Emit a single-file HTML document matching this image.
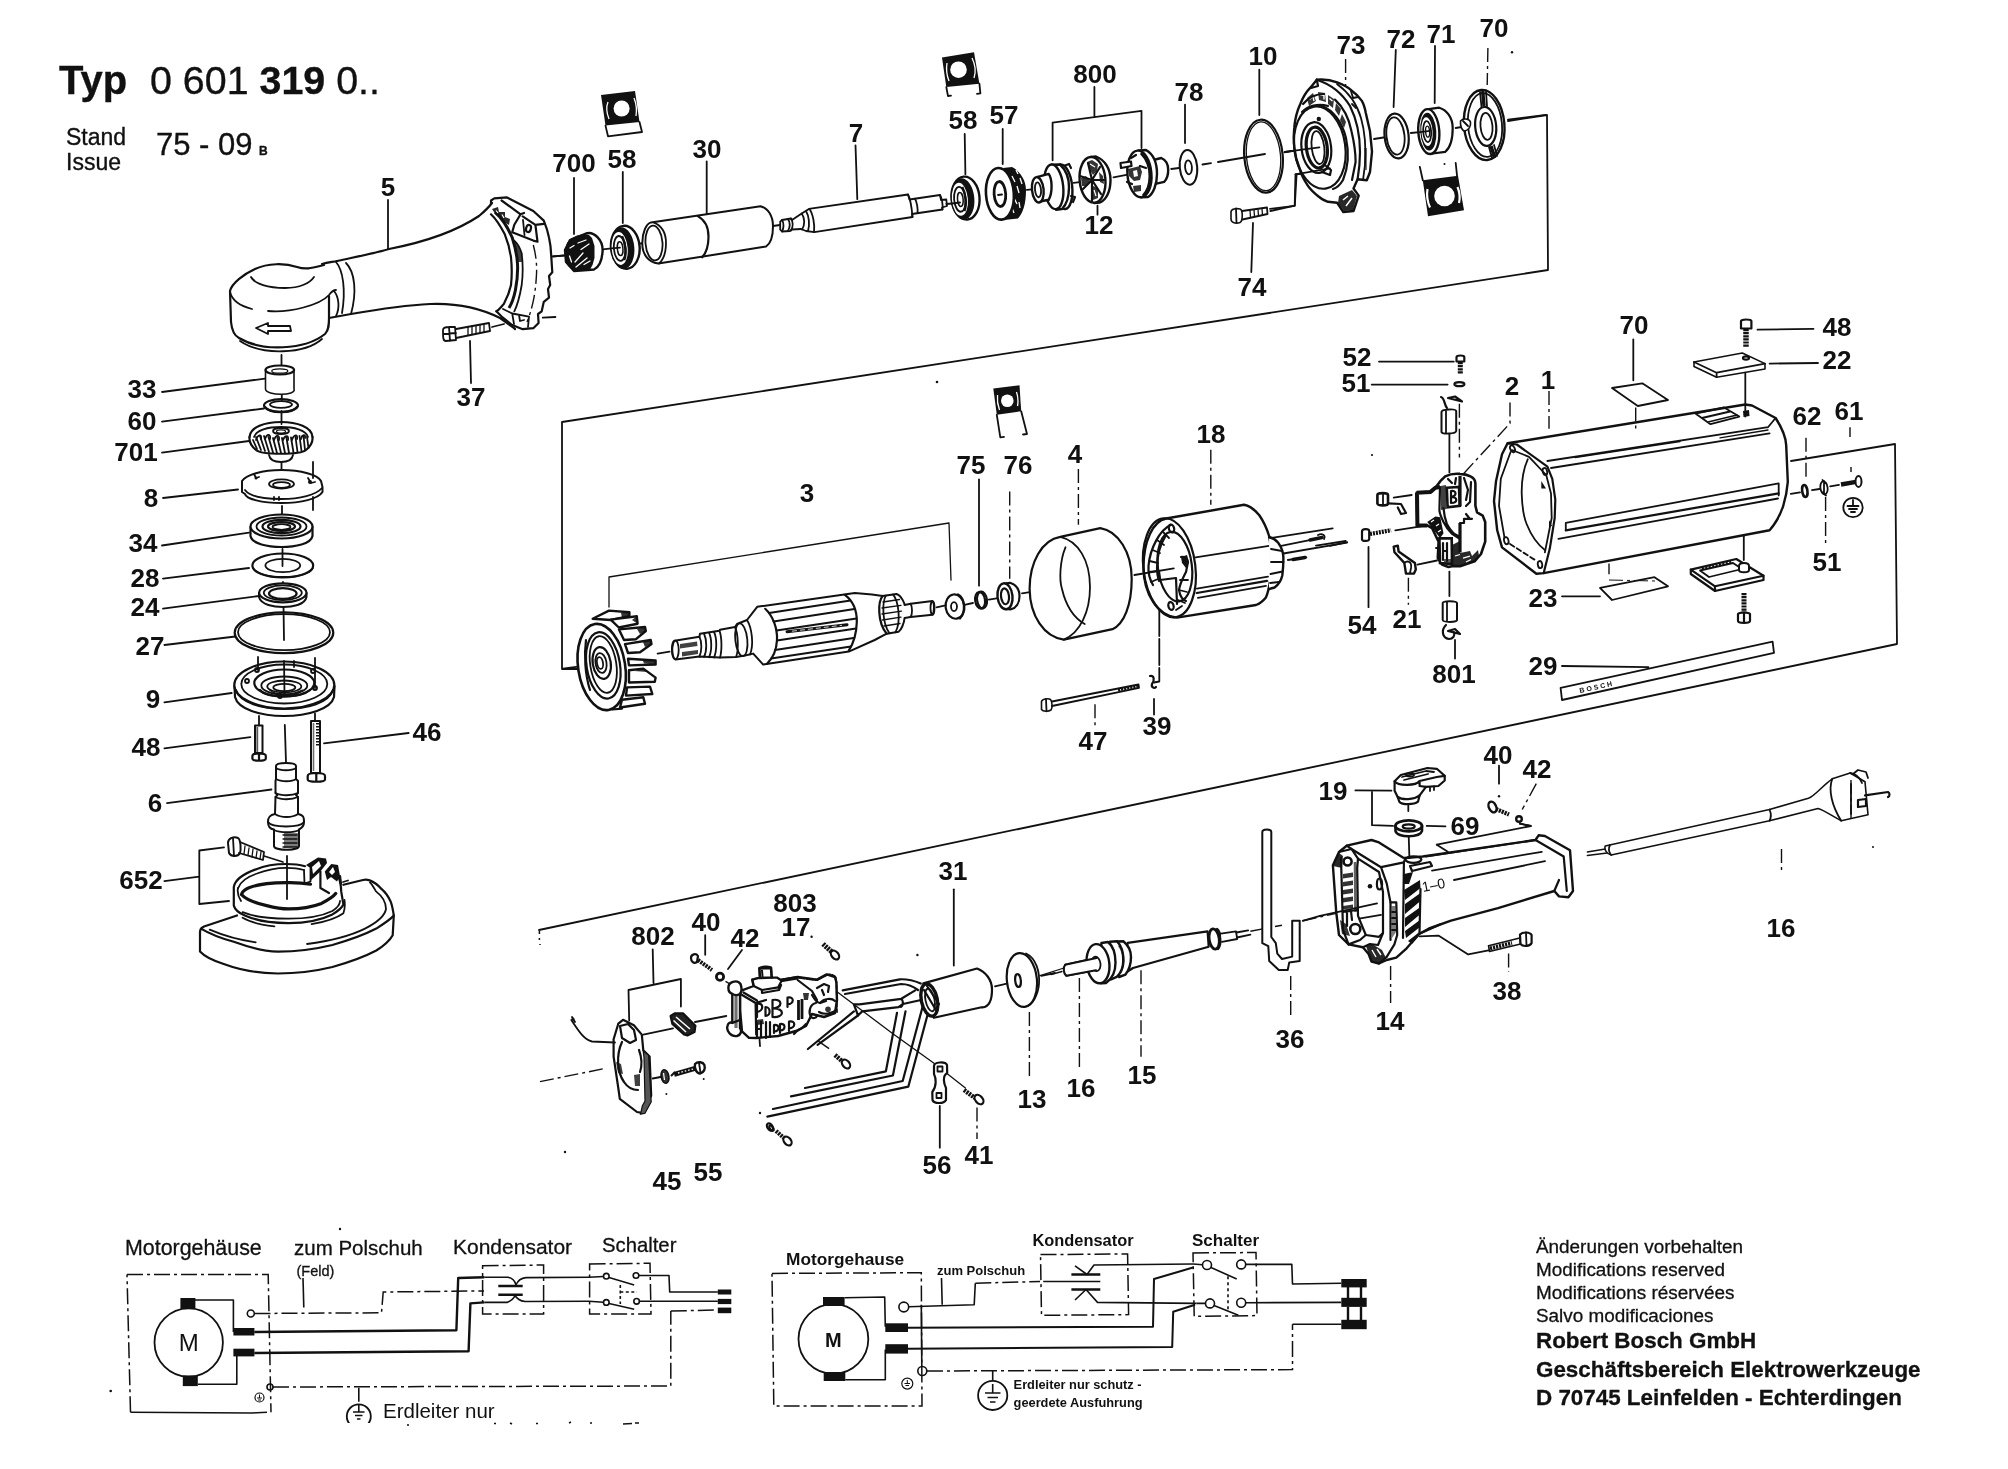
<!DOCTYPE html>
<html><head><meta charset="utf-8"><title>Typ 0 601 319 0..</title>
<style>
html,body{margin:0;padding:0;background:#fff;}
svg{display:block;filter:blur(.5px)}
text{font-family:"Liberation Sans",sans-serif;fill:#111}
.b{font-weight:bold;font-size:26px}
.l{stroke:#111;stroke-width:1.8;fill:none;stroke-linecap:round;stroke-linejoin:round}
.t{stroke:#111;stroke-width:1.3;fill:none;stroke-linecap:round;stroke-linejoin:round}
.k{stroke:#111;stroke-width:2.2;fill:none;stroke-linecap:round;stroke-linejoin:round}
.w{stroke:#111;stroke-width:1.6;fill:#fff;stroke-linecap:round;stroke-linejoin:round}
.f{fill:#111;stroke:none}
.d{stroke:#111;stroke-width:1.4;fill:none;stroke-dasharray:14 4 3 4}
</style></head><body>
<svg width="2008" height="1469" viewBox="0 0 2008 1469">
<rect width="2008" height="1469" fill="#fff"/>
<!-- 00_labels.svg -->
<g id="title" stroke="#111" stroke-width=".35">
<text x="59" y="94" font-size="40" font-weight="bold">Typ</text>
<text x="150" y="94" font-size="39.400">0 601 <tspan font-weight="bold">319</tspan> 0..</text>
<text x="66" y="145" font-size="23">Stand</text>
<text x="66" y="170" font-size="23">Issue</text>
<text x="156" y="155" font-size="31">75 - 09</text>
<text x="259" y="155" font-size="12" font-weight="bold">B</text>
</g>
<g id="labels" class="b" text-anchor="middle">
<text x="388" y="196">5</text>
<text x="574" y="172">700</text>
<text x="622" y="168">58</text>
<text x="707" y="158">30</text>
<text x="856" y="142">7</text>
<text x="963" y="129">58</text>
<text x="1004" y="124">57</text>
<text x="1095" y="83">800</text>
<text x="1189" y="101">78</text>
<text x="1263" y="65">10</text>
<text x="1351" y="54">73</text>
<text x="1401" y="48">72</text>
<text x="1441" y="43">71</text>
<text x="1494" y="37">70</text>
<text x="1099" y="234">12</text>
<text x="1252" y="296">74</text>
<text x="471" y="406">37</text>
<text x="142" y="398">33</text>
<text x="142" y="430">60</text>
<text x="136" y="461">701</text>
<text x="151" y="507">8</text>
<text x="143" y="552">34</text>
<text x="145" y="587">28</text>
<text x="145" y="616">24</text>
<text x="150" y="655">27</text>
<text x="153" y="708">9</text>
<text x="146" y="756">48</text>
<text x="427" y="741">46</text>
<text x="155" y="812">6</text>
<text x="141" y="889">652</text>
<text x="807" y="502">3</text>
<text x="971" y="474">75</text>
<text x="1018" y="474">76</text>
<text x="1075" y="463">4</text>
<text x="1211" y="443">18</text>
<text x="1093" y="750">47</text>
<text x="1157" y="735">39</text>
<text x="1357" y="366">52</text>
<text x="1356" y="392">51</text>
<text x="1512" y="395">2</text>
<text x="1548" y="389">1</text>
<text x="1634" y="334">70</text>
<text x="1837" y="336">48</text>
<text x="1837" y="369">22</text>
<text x="1807" y="425">62</text>
<text x="1849" y="420">61</text>
<text x="1827" y="571">51</text>
<text x="1543" y="607">23</text>
<text x="1362" y="634">54</text>
<text x="1407" y="628">21</text>
<text x="1454" y="683">801</text>
<text x="1543" y="675">29</text>
<text x="1333" y="800">19</text>
<text x="1498" y="764">40</text>
<text x="1537" y="778">42</text>
<text x="1465" y="835">69</text>
<text x="953" y="880">31</text>
<text x="795" y="912">803</text>
<text x="796" y="936">17</text>
<text x="653" y="945">802</text>
<text x="706" y="931">40</text>
<text x="745" y="947">42</text>
<text x="1032" y="1108">13</text>
<text x="1081" y="1097">16</text>
<text x="1142" y="1084">15</text>
<text x="1290" y="1048">36</text>
<text x="1390" y="1030">14</text>
<text x="1507" y="1000">38</text>
<text x="1781" y="937">16</text>
<text x="937" y="1174">56</text>
<text x="979" y="1164">41</text>
<text x="667" y="1190">45</text>
<text x="708" y="1181">55</text>
</g>
<g id="footer" stroke="#111" stroke-width=".3">
<text x="1536" y="1253" font-size="18.900">Änderungen vorbehalten</text>
<text x="1536" y="1276" font-size="18.900">Modifications reserved</text>
<text x="1536" y="1299" font-size="18.900">Modifications réservées</text>
<text x="1536" y="1322" font-size="18.900">Salvo modificaciones</text>
<text x="1536" y="1348" font-size="22.400" font-weight="bold">Robert Bosch GmbH</text>
<text x="1536" y="1377" font-size="22.400" font-weight="bold">Geschäftsbereich Elektrowerkzeuge</text>
<text x="1536" y="1405" font-size="22.400" font-weight="bold">D 70745 Leinfelden - Echterdingen</text>
</g>

<!-- 01_frames.svg -->
<g id="frames" class="l">
<path d="M577 669 L562 669 L562 422 L1548 270 L1547 115 L1508 121"/>
<path d="M539 930 L1897 644 L1895 444 L1791 461"/>
<path d="M609 607 L609 577 L949 523 L951 580" class="t"/>
</g>

<!-- 10_part5.svg -->
<g id="p5">
<!-- leader 5 -->
<path class="l" d="M388 200 L388 249"/>
<!-- head cylinder -->
<path class="k" d="M324 265 C312 268 306 270 297 267 C285 263 268 263 255 269 C244 274 232 283 230 291 L231 322 C232 332 235 336 239 338 C262 352 305 350 325 334 C329 330 329 324 329 318 L329 296"/>
<path class="l" d="M240 341 C262 356 305 354 322 339"/>
<path class="l" d="M230 292 C232 300 240 306 252 309 M268 311 C290 313 320 305 329 295 C332 291 334 290 336 290"/>
<path class="l" d="M251 277 C255 284 268 288 285 288 C300 288 310 283 314 277"/>
<!-- arrow -->
<path class="l" d="M256 328 L268 323 L268 326 L290 326 L291 331 L268 331 L268 334 Z"/>
<!-- neck -->
<path class="k" d="M322 264 C328 262 333 262 337 261"/>
<path class="l" d="M336 262 C343 270 346 290 342 313 M346 263 C355 272 357 292 351 314 M334 291 C339 297 340 308 336 316 M329 318 L351 314"/>
<!-- body -->
<path class="k" d="M337 261 C360 256 380 252 389 249 C420 243 455 232 479 216 C485 211 489 207 492 203"/>
<path class="k" d="M351 314 C380 309 410 305 430 304 C455 303 480 308 500 318 C506 322 511 326 515 329"/>
<!-- flange -->
<path class="k" d="M491 203.700 L491 200.500 L494.300 198.400 L507 197.400 L533.300 211 L543.800 220.600 C546 226 548 232 549 237.500 C550.500 244 551 250 551.200 255.400 L552.300 272.300 L549 276 L550.200 285 L548 289 L549 297.600 L543.800 301.800 L541.700 311.300 L538 314 L538.600 323 L533.300 328.200 L522.700 329.200 L512.200 325 L501.600 316.600 L496.400 311.300"/>
<path class="k" d="M491 214.300 C497 220 501 227 504.800 234.300 C508 242 510 250 511 257.500 C512 267 512 276 511 285 C509.500 292 507 298 503.800 304 C501 307 499 310 496.400 311.300"/>
<path d="M495 212 C503 219 508 228 512.200 237.500 C515 246 517 255 517.500 263.800 C518 273 517 282 515.400 290.200 C514 297 512 303 509 308" fill="none" stroke="#111" stroke-width="3"/>
<path class="l" d="M514.300 240.600 C518 244 520 248 521.700 253.300 C523 264 523 275 521.700 285 C520 295 518 304 514.300 311.300"/>
<path class="f" d="M512.500 239 L516 243 C519 247 521 251 521.700 255 L522 262 L517.500 262 C517 254 515 246 512.500 239Z" opacity=".8"/>
<path class="f" d="M492 209 L498 207 L499 212 L505 212 L505 217 L510 219 L509 225 L504 222 L501 217 L496 215Z" opacity=".9"/>
<path d="M496 210.500 L498 213 M502 214.500 L504 218" stroke="#fff" stroke-width="1.200"/>
<path class="k" d="M501.600 200.500 L520.600 214.300 L514.300 224.800 L512.200 232.200 L533.300 240.600 L537.500 241.700 L535.400 224.800 L522.700 216.400 M520.600 214.300 L524 213 M535.400 224.800 L543.800 223.800"/>
<path class="l" d="M523 220 L524.500 235"/>
<ellipse class="k" cx="528.500" cy="228.500" rx="2.400" ry="3.600" transform="rotate(15 528.500 228.500)"/>
<path class="d" d="M533.300 245 C536 255 537 265 536.500 274.400 C536 284 535 293 533.300 300.800 C531.500 309 529.500 316 527 322" stroke-dasharray="12 4 3 4"/>
<path class="l" d="M503 309 L512.200 313.500 L529 316.600 L528 327 M512.200 313.500 L514 324 M519 315 L520 321 L524 320"/>
<!-- axis -->
<path class="l" d="M552.300 256.500 L565 255.400 M542.800 317.600 L555.400 317"/>
<!-- screw 37 -->
<path class="l" d="M443 330 C443 327 446 327 449 327 L455 327 L456 340 L446 341 C443 341 443 338 443 330 Z M449 327 L450 341 M443 334 L456 333"/>
<path class="l" d="M456 329 L489 323 L490 331 L456 338"/>
<path class="t" d="M468 327 L468 335 M472 326 L472 334 M476 326 L476 333 M480 325 L480 333 M484 324 L484 332"/>
<path class="l" d="M470 341 L471 383"/>
<path class="l" d="M492 327 L504 324"/>
</g>

<!-- 11_stack.svg -->
<g id="stack">
<!-- axis segments -->
<path class="l" d="M281.5 355 L281.5 365 M281.8 394 L281.8 400 M281.5 411 L281.5 424 M281.5 462 L281.5 481 M282 506 L282 524 M282.5 549 L282.5 566 M283 582 L283 594 M283.5 606 L284 640 M284 663 L284 687 M284.8 725 L286 762 M287 856 L287 899"/>
<!-- 33 -->
<path class="w" d="M265.5 370 L265.5 389 C266 396 297 396 294 389 L294 370"/>
<ellipse class="w" cx="279.8" cy="370" rx="14.3" ry="4.5" style="stroke-width:2.2"/>
<ellipse class="t" cx="279.8" cy="371" rx="8" ry="2.2"/>
<path class="l" d="M162 392 L265 378.6"/>
<!-- 60 -->
<ellipse class="k" cx="281" cy="405.5" rx="17" ry="6.3"/>
<ellipse class="l" cx="281" cy="404.5" rx="11" ry="3.4"/>
<path class="k" d="M265 407 C270 414 292 414 297 407"/>
<path class="l" d="M162 421.7 L264 408.5"/>
<!-- 701 bevel gear -->
<path class="k" d="M249.5 437 C250 427 265 422 281 422 C297 422 312 427 312.5 437"/>
<path class="k" d="M249.5 437 C249 442 251 446 256 450 C262 455 300 455 306 450 C311 446 313 442 312.5 437"/>
<path class="l" d="M254 437 C256 430 268 427 281 427 C294 427 306 430 308 437"/>
<ellipse class="l" cx="281" cy="431" rx="8" ry="3"/>
<ellipse class="t" cx="281" cy="431.5" rx="4.5" ry="1.6"/>
<path class="l" d="M253 440 L257 449 M256 437 L261 450 M260 436 L265 451 M264 436 L269 452 M268.5 437 L273 452.5 M273 438 L277 453 M277.5 438 L281 453 M282 438 L285 453 M286.5 438 L289 453 M291 437.5 L293.5 452.5 M295.5 437 L297.5 452 M299.5 436 L301.5 451 M303.5 436 L305 450 M307 437 L308.5 448"/>
<path class="l" d="M256 440 C258 434 262 434 261 439 M265 439 C267 433 271 434 270 439 M274 440 C276 434 280 435 279 440 M283 440 C285 435 289 435 288 440 M292 440 C294 434 298 434 297 439 M301 439 C302 434 306 434 305 438"/>
<path class="l" d="M269 455 C270 461 275 462 281 462 C287 462 292 461 293 455"/>
<path class="l" d="M162 452.6 L249 441"/>
<!-- 8 plate -->
<path class="w" style="stroke-width:2" d="M242 486 L242 481 C246 475 262 470 281.5 470 C301 470 318 475 321 481 L322.5 487 L322.5 492 C318 499 301 503 281.5 503 C262 503 246 499 245 494 L242 492 Z"/>
<path class="l" d="M245 490 C250 497 264 499 281.5 499 C300 499 316 495 322 488"/>
<ellipse class="l" cx="281.5" cy="484" rx="12.5" ry="4.6"/>
<ellipse class="l" cx="281.5" cy="485" rx="8.5" ry="2.8"/>
<path class="l" d="M254 474 L256 478 L259 477 M308 478 L311 483 L315 482 M274 497 L274 500 M279 497 L279 500"/>
<circle class="f" cx="256" cy="478" r="1.5"/><circle class="f" cx="310" cy="482" r="2"/>
<path class="l" d="M313 462 L313 478 M313 497 L313 510"/>
<path class="l" d="M163 498 L238 489.5"/>
<!-- 34 bearing -->
<path class="w" style="stroke-width:2.2" d="M250.5 527 L250.5 536 C252 544 268 547 281.5 547 C295 547 311 544 312.5 536 L312.5 527"/>
<ellipse class="w" style="stroke-width:2.2" cx="281.5" cy="526.5" rx="31" ry="12"/>
<ellipse class="l" cx="281.5" cy="526.5" rx="25" ry="9"/>
<ellipse class="k" cx="281.5" cy="526.5" rx="19" ry="6.6"/>
<ellipse class="k" cx="281.5" cy="526.5" rx="13.5" ry="4.4"/>
<ellipse class="l" cx="281.5" cy="527" rx="9" ry="2.8"/>
<path class="l" d="M162 545.5 L249 532.6"/>
<!-- 28 washer -->
<ellipse class="k" cx="282.8" cy="565.5" rx="30.4" ry="12"/>
<ellipse class="l" cx="282.8" cy="565.5" rx="17.4" ry="6.7"/>
<path class="l" d="M253 568 C258 580 308 580 313 568"/>
<path class="l" d="M163 578.7 L249 568"/>
<!-- 24 -->
<path class="w" style="stroke-width:2" d="M259 593 L259 597 C261 605 274 607 283 607 C292 607 305 605 306.5 597 L306.5 593"/>
<ellipse class="w" style="stroke-width:2.2" cx="282.8" cy="592.8" rx="23.7" ry="9.5"/>
<ellipse class="k" cx="282.8" cy="593.5" rx="13.8" ry="5.4"/>
<ellipse class="l" cx="282.8" cy="592.8" rx="19" ry="7.4"/>
<path class="l" d="M163 608.6 L259 596"/>
<!-- 27 o-ring -->
<ellipse class="k" cx="284" cy="632.7" rx="49.3" ry="20.4"/>
<ellipse class="l" cx="284" cy="632.2" rx="46" ry="18"/>
<path class="l" d="M164.4 645 L235.4 636.5"/>
<!-- 9 flange -->
<path class="w" style="stroke-width:2.2" d="M234.5 686 L235 697 C238 709 260 716 284 716 C308 716 331 709 334 697 L334.5 686"/>
<ellipse class="w" style="stroke-width:2.2" cx="284.3" cy="685" rx="50" ry="23.5"/>
<path class="l" d="M236 690 C240 703 262 709 284 709 C308 709 329 703 333 690"/>
<ellipse class="l" cx="284.3" cy="684" rx="43" ry="19.5"/>
<ellipse class="k" cx="284.3" cy="683" rx="30" ry="13.5"/>
<ellipse class="l" cx="284.3" cy="685.5" rx="23" ry="9"/>
<ellipse class="l" cx="284.3" cy="686.5" rx="17" ry="6"/>
<ellipse class="l" cx="284.3" cy="687.5" rx="11" ry="3.6"/>
<path class="k" d="M260 690 C266 698 300 699 310 690"/>
<circle class="l" cx="247" cy="681" r="2"/><circle class="l" cx="257" cy="670" r="2"/><circle class="l" cx="313" cy="671" r="2"/><circle class="l" cx="280" cy="696" r="2"/><circle class="l" cx="315" cy="688" r="2"/>
<path class="l" d="M258 657 L258 670 M294 661 L294 667 M315 658 L315 688"/>
<path class="l" d="M164.4 702.3 L231.7 693"/>
<!-- screw 48 -->
<path class="l" d="M259 716 L259 725 M315 713.500 L315 721"/>
<path class="w" style="stroke-width:2" d="M255 725.500 L262.500 725.500 L262.500 753 L255 753Z"/>
<path d="M257.300 727 L257.300 752" stroke="#111" stroke-width="1.800" opacity=".7"/>
<path class="k" d="M252.400 756 C252.400 752.500 265.800 752.500 265.800 756 L265.800 758.500 C265.800 761.500 252.400 761.500 252.400 758.500 Z M259 753.500 L259 760.500"/>
<path class="l" d="M164.400 748.400 L250.400 737.200"/>
<!-- screw 46 -->
<path class="w" style="stroke-width:2" d="M311 721 L320 721 L320 773 L311 773Z"/>
<path d="M317.500 723 L317.500 746" stroke="#111" stroke-width="3" stroke-dasharray="1.400 1.600"/>
<path d="M313.500 723 L313.500 771" stroke="#111" stroke-width="1.600" opacity=".6"/>
<path class="k" d="M307.700 776 C307.700 772 325 772 325 776 L325 779.500 C325 782.500 307.700 782.500 307.700 779.500 Z M316.300 773 L316.300 781.500"/>
<path class="l" d="M324 743.400 L408.600 733"/>
<path class="l" d="M284 661 L284.500 694"/>
<path class="f" d="M268 689 C272 694 280 697 286 697 C294 697 300 694 303 689 C298 692 290 693.500 285 693.500 C279 693.500 272 692 268 689Z"/>
<!-- 6 spindle -->
<path class="w" style="stroke-width:2" d="M276 766 C276 762 296 762 296 766 L296 779 L298 781 L298 793 L296 795 L298 797 L298 814 C304 815 304 818 304 822 C304 827 300 829 299 829.5 L299 846 C299 851 274 851 274 846 L274 829.5 C270 829 268 826 268 822 C268 818 269 815 275 814 L275.5 797 L277.5 795 L275.5 793 L275.5 781 L276 779 Z"/>
<path class="l" d="M276 768 C280 771 292 771 296 768 M276 779 C281 782 292 782 296 779 M275.5 793 C281 796 292 796 298 793 M275.5 797 C281 800 292 800 298 797 M275 814 C281 818 292 818 298 814 M268 822 C272 828 300 828 304 822 M274 830 C280 833 294 833 299 830"/>
<path class="t" d="M283 835 L297 835 M283 839 L297 839 M283 843 L297 843 M283 847 L297 847"/>
<path class="f" d="M284 833 L298 833 L298 847 L284 848Z" opacity=".55"/>
<path class="l" d="M167 803.2 L271.5 789.5"/>
<!-- 652 -->
<path class="l" d="M224 847.3 L199.3 850.5 L199.3 904 L229 901 M164.4 881.2 L199.3 876.7"/>
<path class="w" style="stroke-width:2" d="M228 843 C228 838 234 836 238 838 C241 840 241 850 240 853 C238 857 231 857 229 853 Z"/>
<path class="l" d="M240 842 L264 852 L263 860 L239 853 M233 838 L234 856"/>
<path class="t" d="M245 846 L244 854 M249 848 L248 855 M253 849 L252 857 M257 851 L256 858 M261 852 L260 859"/>
<path class="l" d="M264 856 L283 862"/>
<!-- guard -->
<path class="k" d="M237 915.5 L204 926.5 C201 928 200 930 200 932 L200 951.6 C206 958 214 961 223 963.7 C240 970 258 973.5 278 973.5 C298 973.5 316 971 332.4 967 C350 962 364 957 376.3 950.5 C385 945 390 940 392.7 935.2 L393.8 915.5 C393 910 392 905 390.5 901.2 C388 896 385 892 381.7 889.2 C378 885 374 882 369.7 880.4 C367 879.5 365 879.5 363 880 L343.4 884.8"/>
<path class="k" d="M201 928.6 C210 934 220 938 233.8 941.8 C248 947 262 951.6 278 951.6 C298 951.6 316 949 332.4 945 C350 940 364 935 376.3 928.6 C385 923 391 919 393.8 915.5"/>
<path class="l" d="M209.7 929.7 C222 935 238 940 255.7 942.3 M307 944 C330 941 350 936 365 928.6 C378 922 385 915 386 909 C386 902 382 896 376 891.4 C374 888 372 884 370 882.5"/>
<path class="l" d="M242.6 917.7 C250 922 262 925 274.4 926.4 M311.6 924.2 C325 922 337 918 343.4 913.3 C345 909 345 904 344.5 900"/>
<!-- clamp ring -->
<path class="k" d="M305 866.2 C299 864.5 293 864 286.4 864 C274 864 264 866 255.7 869.4 C243 874 235 880 233.8 887 L233.8 905.6 C235 910 239 913 244.8 915.5 C257 921 272 923.1 288.6 923.1 C306 923 321 920 332.4 914.4 C338 911 342 908 343.4 904.5 L341.2 891.4 C341 885 340 880 338 876"/>
<path class="l" d="M238.2 888 C240 882 247 877 257 873.5 C266 870 276 867.8 286.4 867.8 C293 867.8 299 868.5 304 870"/>
<path class="l" d="M238 888 C237 893 239 898 241 901 M242.6 912.2 C254 917 270 918.7 288.6 918.7 C306 918.7 322 916 332.4 911 C337 908 340 905 340 901"/>
<path d="M241.5 894.6 C243 888 256 883 286.4 882.6 C296 882.4 304 883 310.5 884.2 M241.5 894.6 C246 900 255 903 266.7 905.6 C274 907.5 281 908.9 288.6 908.9 C301 908.9 312 907 321.5 903.4 C328 900 333 897 335.7 893.5" fill="none" stroke="#111" stroke-width="3.2" stroke-linecap="round"/>
<path class="l" d="M304 870 L304.5 883.7 M310.5 868.3 L310.5 881.5 M304.5 883.7 L310.5 881.5"/>
<path class="f" d="M306 865 L318 857.4 L326 858.5 L327 863 L320.4 871.6 L310.5 880.4 L310.5 868.3 Z"/>
<path d="M312 867 L319 861 L321 866 L313 874Z" fill="#fff"/>
<path class="f" d="M324.8 871.6 L331.3 864 L338 865 L340 876 L337 881.5 L331 877 L327 880 Z"/>
<path d="M329 872 L333 867 L335 872 L332 875Z" fill="#fff"/>
<path class="k" d="M320.4 871.6 L320.4 888 L329 893 M340 876 L341 884"/>
<path class="l" d="M343 882 L348 880.5"/>
</g>

<!-- 12_toprow.svg -->
<g id="toprow">
<!-- bearing icon 1 -->
<path class="f" d="M601 95 L635 91 L639.5 122 L605.5 125.6 Z"/>
<circle cx="621.6" cy="108.5" r="8" fill="#fff"/>
<path d="M608 102 C606 107 607 114 609 119 M634 98 C636 103 637 110 636 116" stroke="#fff" stroke-width="1.3" fill="none"/>
<path class="l" d="M605.5 125.6 L608 136.3 L642 132 L639.5 122"/>
<!-- 700 pinion -->
<path class="l" d="M574 178 L574 234 M553.4 256.4 L565 255.5 M602.7 249.3 L611.7 248.4"/>
<path class="w" style="stroke-width:2.400" d="M586 233.500 C594 231 603 240 602.600 251 C602 261 599 267 594 269.500 L574 271 L566 262 L565 250 L570 240 Z"/>
<path class="f" d="M565 250 L567 243 L571 238.500 L577 235.500 L584 234 L589 235 L592 238 L594.500 246 L594.500 258 L592.500 265 L590 269.500 L574 271 L568 266 L565.500 259 Z"/>
<path d="M570 248 L574 245.500 M569.500 256 L571.500 262 M575 262 L583 253 M576 267 L587 258 M578 243 L586 240 M581 249.500 L589 244 M584 264.500 L590 261" stroke="#fff" stroke-width="1.300" fill="none" stroke-linecap="round"/>
<!-- 58 bearing -->
<path class="l" d="M622.8 172 L622.8 223"/>
<g transform="rotate(-5 625 247)">
<ellipse class="w" style="stroke-width:2.400" cx="625.300" cy="247.300" rx="14.300" ry="21.500"/>
<ellipse cx="622.300" cy="247.800" rx="11.200" ry="20" fill="#111" stroke="#111" stroke-width="1.500"/>
<ellipse cx="619.600" cy="248" rx="8" ry="16.500" fill="#fff"/>
<ellipse cx="619.600" cy="248" rx="5.800" ry="12.500" fill="none" stroke="#111" stroke-width="1.800"/>
<ellipse cx="620" cy="248.200" rx="2.800" ry="7" fill="#fff" stroke="#111" stroke-width="1.500"/>
<path d="M623 236 C626 243 626 254 623 260" stroke="#111" stroke-width="2.500" fill="none"/>
</g>
<path class="l" d="M611.700 248.400 L620 247.700"/>
<!-- 30 sleeve -->
<path class="l" d="M706.7 161.4 L706.7 213.4 M640.4 243.5 L654.7 242.5"/>
<path class="w" style="stroke-width:2" d="M651 222.4 L760.5 206.2 C768 208 773 216 773 226 C773 237 770 244 765.9 246.6 L658.3 263.6 C648 262 642 254 642.3 243 C642.5 232 646 224 651 222.4Z"/>
<ellipse class="l" cx="654" cy="243" rx="8.5" ry="17.5" transform="rotate(-4 654 243)"/>
<path class="l" d="M654 222.6 C662 226 666 234 666 243 C666 253 663 260 659 263.5"/>
<path class="k" d="M697.8 216.1 C705 220 708.5 228 708.5 236.7 C708.5 246 706 253 702.2 257.3"/>
<!-- 7 shaft -->
<path class="l" d="M855.5 145.3 L857.3 199.1 M773 226 L780 225"/>
<path class="w" style="stroke-width:1.8" d="M780.2 221.6 L782 220 L791 218.5 L792 220 L801.7 213.4 L808.9 208.9 L908 194.5 L909.500 199.500 L940 195 L941 200 L946.3 199.500 L947 206 L942 207.500 L942.500 209.500 L912 214 L912.500 217 L814.3 232.2 L806 231 L801 229 L792 229.5 L790 231 L782 231.5 L780.2 229.6 Z"/>
<path class="l" d="M782 220 C784 223 784 228 782 231.5 M788 219 C790 222 790 227 788 231 M791 218.5 C793 222 793 227 791 230.5 M801.7 213.4 C805 218 805 225 802 229.5 M806 211 C809 216 810 225 808 231 M809.5 209 C813 214 815 225 814 232 M908 194.5 C911 200 912 211 912.500 217 M915 198.700 C917 202 918 209 917.500 213.200 M940 195 C942 198 943 205 942.500 209.500"/>
<!-- bearing icon 2 -->
<path class="f" d="M942 57.5 L974 52.3 L979.4 83.7 L946.3 87.1 Z"/>
<circle cx="958.5" cy="69.7" r="8.3" fill="#fff"/>
<path d="M947 63 C946 69 947 76 949 81 M972 58 C975 64 976 72 974 78" stroke="#fff" stroke-width="1.3" fill="none"/>
<path class="l" d="M946.3 87.1 L948 96 L951 95.6 M980.4 93.4 L979.4 83.7 M977 93.8 L980.4 93.4"/>
<!-- 58 second -->
<path class="l" d="M964.7 134 L965.4 174.3 M946.3 204 L952 203.5"/>
<g transform="translate(340.200 -49.200) rotate(-5 625 247)">
<ellipse class="w" style="stroke-width:2.400" cx="625.300" cy="247.300" rx="14" ry="21.500"/>
<ellipse cx="622.300" cy="247.800" rx="11" ry="20" fill="#111" stroke="#111" stroke-width="1.500"/>
<ellipse cx="619.600" cy="248" rx="8" ry="16.500" fill="#fff"/>
<ellipse cx="619.600" cy="248" rx="5.800" ry="12.500" fill="none" stroke="#111" stroke-width="1.800"/>
<ellipse cx="620" cy="248.200" rx="2.800" ry="7" fill="#fff" stroke="#111" stroke-width="1.500"/>
<path d="M623 236 C626 243 626 254 623 260" stroke="#111" stroke-width="2.500" fill="none"/>
</g>
<path class="l" d="M952 203.500 L960 202.500"/>
<!-- 57 -->
<path class="l" d="M1002.700 129 L1002.700 164"/>
<path class="f" d="M1003 168 L1012 167 C1020 171 1026 180 1026 190 C1026 204 1023 213 1018 218.500 L1004 220 C1010 212 1013.500 203 1013.500 193.500 C1013.500 184 1009 174 1003 168Z"/>
<path d="M1012 176 L1015 182 M1017 186 L1019 193 M1014 198 L1017 204 M1019 202 L1020 208 M1012 208 L1014 213 M1020 178 L1022 184 M1016 170 L1018 174" stroke="#fff" stroke-width="1.300" fill="none"/>
<ellipse class="w" style="stroke-width:2.600" cx="999.900" cy="193.800" rx="13.900" ry="25.900" transform="rotate(-4 999.900 193.800)"/>
<ellipse cx="999.900" cy="194" rx="5.800" ry="12.500" transform="rotate(-4 999.900 194)" fill="#fff" stroke="#111" stroke-width="2.800"/>
<path class="l" d="M998 195 L1002 194.500"/>
<!-- 800 bracket -->
<path class="l" d="M1052.600 160.300 L1052.600 122.700 L1141.500 110.800 L1141.500 148 M1094.400 87 L1094.400 116.800"/>
<!-- coupling left -->
<path class="l" d="M1026.800 189.800 L1032 189.300 M1073.600 182.800 L1089.600 180.800"/>
<ellipse class="w" style="stroke-width:2.400" cx="1062.700" cy="186.800" rx="9.500" ry="22.400" transform="rotate(-6 1062.700 186.800)"/>
<path class="k" d="M1065 165.500 L1069 164 L1071 168 M1071 196 L1075 197 L1073 202"/>
<path class="w" style="stroke-width:2.400" d="M1051.500 164.700 L1060 164.500 C1066 170 1069 178 1069 187 C1069 197 1066 205 1062 209 L1056 209.700"/>
<ellipse class="w" style="stroke-width:2.400" cx="1053.700" cy="186.800" rx="9.500" ry="22.400" transform="rotate(-6 1053.700 186.800)"/>
<path class="w" style="stroke-width:2.400" d="M1037.800 176.900 L1048.700 173.900 C1052 178 1053 192 1048.700 199.800 L1038.800 201.800"/>
<ellipse class="w" style="stroke-width:2.400" cx="1037.800" cy="189.800" rx="5.800" ry="12.800" transform="rotate(-6 1037.800 189.800)"/>
<ellipse class="l" cx="1038" cy="189.800" rx="3" ry="7.500" transform="rotate(-6 1038 189.800)"/>
<!-- coupling middle 12 -->
<path class="w" style="stroke-width:2.400" d="M1091 157 L1096 156.500 C1105 160 1110.500 169 1110.500 180 C1110.500 192 1106 200 1100 202.500 L1094 203"/>
<ellipse class="w" style="stroke-width:2.400" cx="1092.500" cy="179.800" rx="12.900" ry="22.900" transform="rotate(-5 1092.500 179.800)"/>
<path class="f" d="M1087 162 L1092 160 L1098 164 L1097 171 L1093 175 L1090 170Z M1081 178 L1086 176 L1090 181 L1087 186 L1082 186Z M1093 186 L1098 188 L1098 198 L1093 200 L1091 193Z M1099 172 L1103 176 L1104 184 L1100 182Z" opacity=".85"/>
<path d="M1090 164 L1095 167 M1094 190 L1096 196" stroke="#fff" stroke-width="1.200"/>
<path class="k" d="M1092 180 L1088 163 M1092 180 L1100 167 M1092 180 L1104 180 M1092 180 L1101 194 M1092 180 L1092 201 M1092 180 L1082 190 M1092 180 L1080 176"/>
<path class="l" d="M1097.500 205.700 L1097.500 214.700 M1113.500 177.400 L1126.400 174.900"/>
<!-- coupling right -->
<path class="w" style="stroke-width:2.400" d="M1153.300 160 L1161.300 158 C1166 160 1168.200 165 1168.200 170 C1168.200 176 1166 180 1164.300 181.800 L1155.300 183.800"/>
<path class="w" style="stroke-width:2.400" d="M1139 150.500 L1146 150 C1153 154 1157 163 1157 174 C1157 185 1153 194 1148 197 L1141 197.300"/>
<ellipse class="w" style="stroke-width:2.400" cx="1139.400" cy="173.900" rx="12" ry="23.400" transform="rotate(-5 1139.400 173.900)"/>
<path d="M1141 153 C1148 160 1150 170 1150 176 C1150 186 1147 192 1143 196" fill="none" stroke="#111" stroke-width="3"/>
<path class="w" style="stroke-width:2.200" d="M1120.500 163 L1131 161.500 L1131.500 166 L1121 168Z"/>
<path class="f" d="M1128 169 L1140 166 L1142 172 L1140 180 L1134 181 L1129 176Z M1133 186 L1141 185 L1141 191 L1134 192Z" opacity=".85"/>
<path d="M1133 171 L1137 170 L1138 176 L1134 177Z" fill="#fff"/>
<path class="k" d="M1131 158 L1136 155 M1127 182 L1132 184 M1140 166 L1146 168"/>
<path class="l" d="M1171.200 169 L1179 168"/>
<!-- 78 washer -->
<path class="l" d="M1185 104.600 L1185 143"/>
<ellipse class="w" style="stroke-width:2" cx="1188.5" cy="167.3" rx="8.7" ry="17.4" transform="rotate(-5 1188.5 167.3)"/>
<ellipse class="l" cx="1188.5" cy="167.3" rx="3.4" ry="7" transform="rotate(-5 1188.5 167.3)"/>
<path class="l" d="M1202.5 164.500 L1211 163.200 M1218 162 L1265 154 M1284.400 152.300 L1321 146.400"/>
<!-- 10 o-ring -->
<path class="l" d="M1259.3 69.700 L1259.3 115"/>
<ellipse class="k" cx="1263.5" cy="156.2" rx="19.2" ry="36.6" transform="rotate(-5 1263.5 156.2)"/>
<ellipse class="t" cx="1263.5" cy="156.2" rx="17" ry="34.5" transform="rotate(-5 1263.5 156.2)"/>
<!-- screw 74 -->
<path class="w" d="M1231 212 C1231 209 1236 208 1240 209 C1243 210 1243 221 1240 222.500 C1236 224 1231 223 1231 219Z"/>
<path class="l" d="M1236 208.500 L1236.500 223 M1242 211 L1267 207.500 L1267.500 214 L1242.500 219.500"/>
<path class="t" d="M1250 210.500 L1250.500 217.500 M1254 210 L1254.500 216.800 M1258 209.400 L1258.500 216 M1262 208.800 L1262.500 215.200"/>
<path class="l" d="M1253 223 L1251.300 272 M1270.400 211 L1294.800 205.600 L1296.600 174.300 L1322.700 170.800"/>
</g>

<!-- 13_endshield.svg -->
<g id="endshield">
<!-- 73 -->
<path class="d" d="M1345.6 59 L1345.6 85"/>
<path class="l" d="M1270 208.800 L1294.700 205.800 L1295.500 174.300 L1330 168.300 M1285 151.800 L1319.400 147.300"/>
<path class="w" style="stroke-width:2.400" d="M1310.600 87.400 L1316.800 79.700 C1324 79 1331 80 1337.200 82.300 C1343 84.500 1348 87 1351.500 90.400 C1356 93.500 1359 97 1361.700 100.600 C1364 104.500 1365 108.500 1365.800 113 L1370 131.300 L1372 151.700 L1370 172 L1366.800 180.300 L1357.600 179.300 L1353.500 188.500 L1358.700 195.600 L1353.500 211 L1343.300 212 L1337.200 202.800 L1328 201.800 C1324 200.500 1321 199 1318.800 196.700 C1314 193 1310 189 1307.600 185.400 C1304 180 1301 174 1299.400 168 C1296.500 161 1295 154 1294.300 147.600 C1293.500 141 1293.500 134 1294.300 127.200 C1295 119 1297 111 1300.400 103.700 C1303 97 1306 92 1310.600 87.400Z"/>
<ellipse class="k" cx="1319.800" cy="147.600" rx="25.500" ry="41.400" transform="rotate(-8 1319.800 147.600)" fill="#fff"/>
<path class="k" d="M1322 106 C1333 110 1342 122 1346 138 C1349 152 1348 168 1343 180 C1340 185 1337 188 1333 189"/>
<ellipse class="k" cx="1316.300" cy="147.600" rx="14.800" ry="25.500" transform="rotate(-7 1316.300 147.600)"/>
<ellipse cx="1316.800" cy="147.600" rx="10.400" ry="20.500" transform="rotate(-7 1316.800 147.600)" fill="none" stroke="#111" stroke-width="3.200"/>
<ellipse class="l" cx="1318" cy="147.600" rx="6.300" ry="16.500" transform="rotate(-7 1318 147.600)"/>
<path class="k" d="M1316.800 79.700 C1330 84 1342 93 1350 106 C1356 118 1360 135 1360 152 C1360 162 1359 171 1357.600 179.300"/>
<path class="l" d="M1337 84 C1348 92 1357 104 1361 118 C1365 132 1366 150 1365 165 L1363 180"/>
<path class="k" d="M1335 99.600 C1343 107 1349 118 1351.500 131.300 C1354 142 1355.600 152 1355.600 162 L1352 180"/>
<path class="f" d="M1307 98 L1313 93 L1316 101 L1309 106Z M1318 92 L1325 93 L1326 102 L1319 100Z M1328 95 L1334 99 L1333 108 L1328 104Z M1336 103 L1341 109 L1339 116 L1335 110Z M1342 114 L1346 122 L1344 128 L1340 120Z" opacity=".85"/>
<path d="M1309.500 99.500 L1313 96.500 L1314 101 M1320 94.500 L1324 95.500 L1324 99.500 M1329.500 98.500 L1332.500 101" stroke="#fff" stroke-width="1.400" fill="none"/>
<path class="k" d="M1303 104 C1308 98 1316 94 1324 94 M1302 112 C1308 106 1318 103 1328 106 M1316.800 79.700 L1318 86 L1311 88"/>
<path class="l" d="M1351 91 L1353 98 L1358 97 M1352 104 L1356 108"/>
<circle class="f" cx="1318.800" cy="119" r="2.200"/>
<path d="M1365.500 148 L1365.500 170" stroke="#111" stroke-width="3" opacity=".55"/>
<path class="k" d="M1326 166 L1331 170 L1330 175 L1322 172"/>
<path class="f" d="M1339 196 L1352 190 L1357 196 L1353 210 L1344 211 L1338 203Z" opacity=".9"/>
<path d="M1343 200 L1348 196 M1346 206 L1352 198" stroke="#fff" stroke-width="1.500"/>
<path class="l" d="M1295.500 174.300 L1330 168.300 M1285 151.800 L1319.400 147.300"/>
<!-- 72 -->
<path class="l" d="M1395.800 50 L1393.600 107 M1374 139 L1392.800 136"/>
<ellipse class="w" style="stroke-width:2.2" cx="1396.600" cy="136" rx="12" ry="22.500" transform="rotate(-6 1396.600 136)"/>
<ellipse class="l" cx="1395.500" cy="136" rx="9" ry="18.700" transform="rotate(-6 1395.500 136)"/>
<!-- 71 -->
<path class="l" d="M1435 46 L1434.700 103 M1410.800 133 L1422 131.800"/>
<path class="w" style="stroke-width:2.200" d="M1428.800 109.200 L1439.200 107.700 C1447 110 1452.700 118 1452.700 128 C1452.700 140 1450 148 1445.200 151.800 L1428.800 154"/>
<ellipse class="w" style="stroke-width:2.400" cx="1428.800" cy="131.600" rx="10.500" ry="22.500" transform="rotate(-4 1428.800 131.600)"/>
<ellipse cx="1428.300" cy="131.600" rx="8" ry="19" transform="rotate(-4 1428.300 131.600)" fill="#111"/>
<ellipse cx="1427" cy="131.600" rx="5.600" ry="14.500" transform="rotate(-4 1427 131.600)" fill="#fff"/>
<ellipse cx="1427.200" cy="131.600" rx="4" ry="10.500" transform="rotate(-4 1427.200 131.600)" fill="none" stroke="#111" stroke-width="1.700"/>
<ellipse cx="1427.600" cy="131.600" rx="2" ry="5.500" transform="rotate(-4 1427.600 131.600)" fill="#fff" stroke="#111" stroke-width="1.400"/>
<path class="l" d="M1418 132.300 L1430 130.800"/>
<!-- 70 cap -->
<path class="d" d="M1487.900 48 L1487.200 85"/>
<path class="l" d="M1455.700 128 L1482.700 123.400 M1508 119.600 L1546 114.900"/>
<ellipse class="w" style="stroke-width:2.400" cx="1484.200" cy="125" rx="20.200" ry="35.200" transform="rotate(-5 1484.200 125)"/>
<ellipse class="l" cx="1485" cy="125" rx="17" ry="32" transform="rotate(-5 1485 125)"/>
<ellipse class="k" cx="1485.700" cy="126.400" rx="10.500" ry="19.500" transform="rotate(-5 1485.700 126.400)"/>
<ellipse class="l" cx="1486.500" cy="126.400" rx="6" ry="13.500" transform="rotate(-5 1486.500 126.400)"/>
<path d="M1482.700 91 L1484 106 M1491 146 L1494.700 158" stroke="#111" stroke-width="3.400" fill="none"/>
<path class="l" d="M1480 92 L1481.500 107 M1486 91.500 L1487 106 M1489 147 L1492 158 M1494 145 L1497 156"/>
<path class="w" d="M1460.500 121 C1463 118 1469 118.500 1470.500 122 C1471 126 1469 130 1465 131 C1462 131 1460 126 1460.500 121Z"/>
<path class="l" d="M1463 121 L1468 126"/>
<!-- bearing icon 3 -->
<path class="l" d="M1419.800 166.800 L1422.800 180.300 M1455.700 163 L1457.200 177.300"/>
<path class="f" d="M1422.800 180.300 L1458 175.800 L1464 210.200 L1428 216.200 Z"/>
<circle cx="1444.500" cy="196" r="10.300" fill="#fff"/>
<path d="M1427.500 189 C1426.500 195 1428 203 1430 207.500 M1457.500 187 C1459.500 192 1460 199 1459 203" stroke="#fff" stroke-width="2.200" fill="none"/>
<!-- bearing icon 4 -->
<path class="f" d="M993.300 388.600 L1019.500 385.200 L1021.200 411.300 L996.800 414.800 Z"/>
<circle cx="1007.300" cy="400.800" r="6.300" fill="#fff"/>
<path d="M997.500 395 C997 400 998 406 999.500 410 M1016.500 392 C1017.800 396 1018.300 402 1017.500 406" stroke="#fff" stroke-width="1.300" fill="none"/>
<path class="l" d="M996.800 414.800 L1000.300 437.400 L1004 436.900 M1021.200 411.300 L1027 434 L1023 434.500"/>
</g>

<!-- 14_armature.svg -->
<g id="armature">
<!-- fan -->
<path class="l" d="M563 668.600 L578 666.600 M586 663.600 L600 662.600 M657.600 653.600 L669.600 651.600"/>
<g style="stroke-width:2.400" class="w">
<path d="M592.700 618.800 L609 610.600 L629.400 612.300 L629.400 616.300 L610.700 620 Z"/>
<path d="M610.700 619.600 L636.800 616.300 L637.600 623.700 L618.800 627.500 Z"/>
<path d="M619 629.400 L645 627 L645.800 631 L636 639.200 L624 640 Z"/>
<path d="M625 644.100 L650.700 640 L651.500 644.100 L640 652.300 L628 653 Z"/>
<path d="M628 658.800 L655.600 660.500 L655.600 664.500 L629 665.400 Z"/>
<path d="M629 670.300 L643.300 668.600 L655.600 677.600 L654.800 681.700 L629 682.500 Z"/>
<path d="M627 687.400 L650 686.600 L652.300 694 L626 695.600 Z"/>
<path d="M622 699.700 L643.300 697.200 L645 703.800 L620 707.500 Z"/>
</g>
<path class="f" d="M629.400 612.300 L629.400 616.300 L622 617.500 L621 613Z M636.800 616.300 L637.600 623.700 L632 620Z M645 627 L645.800 631 L640 634 L637 629Z M650.700 640 L651.500 644.100 L645 647 L643 642Z M643 661 L655.600 660.500 L655.600 664.500 L644 663.500Z M634 671 L643.300 668.600 L648 672Z" opacity=".85"/>
<path class="k" d="M612.300 709.500 L622 708.700"/>
<ellipse class="w" style="stroke-width:2.600" cx="601.700" cy="667" rx="23.500" ry="43.500" transform="rotate(-9 601.700 667)"/>
<ellipse class="k" cx="603.300" cy="665.400" rx="16.700" ry="33.500" transform="rotate(-9 603.300 665.400)"/>
<ellipse class="l" cx="603.300" cy="664.500" rx="13" ry="28.600" transform="rotate(-9 603.300 664.500)"/>
<ellipse class="k" cx="601.700" cy="663" rx="9" ry="16" transform="rotate(-9 601.700 663)"/>
<ellipse class="l" cx="601" cy="663" rx="5.500" ry="10" transform="rotate(-9 601 663)"/>
<ellipse class="l" cx="600" cy="663" rx="3" ry="6" transform="rotate(-9 600 663)"/>
<path class="k" d="M586 640 C584 655 585 675 590 690"/>
<!-- armature shaft left -->
<path class="w" style="stroke-width:2" d="M674.500 640.700 L699.400 636.700 L700 633.700 L719.400 630.700 L720 629.700 L735 627 L737 624 L747 620 L757.200 606.800 L854.800 592.900 L872 594.500 L882.700 595.900 L896.600 593.900 C902 596 904.600 604 904.600 605 L910.600 603.800 L932.500 601 C934.500 603 934.500 612 932.500 614.800 L910.600 617 L904.600 618 C904 624 901 630 898.600 631.700 L886.700 633.700 L874.700 640 L848.800 651.600 L763.200 664.600 L753.200 653.600 L745 655.500 L736 657 L720 657.600 L699.400 656.500 L675.500 659.600 C671 658 671 643 674.500 640.700Z"/>
<ellipse class="l" cx="675.500" cy="650" rx="3.200" ry="9.300"/>
<path class="f" d="M680 644 L697 641.500 L697.500 646 L680 648.500Z M682 652 L698 650 L698 654 L682 656.500Z" opacity=".8"/>
<path class="l" d="M699.400 636.700 C702 642 702 651 699.400 656.500 M704 633.500 C707 640 707 651 704 657 M709 632.700 C712 639 712 651 709 657.300 M714 632 C717 638 717 651 714 657.500 M719.400 630.700 C722 637 722 651 720 657.600"/>
<ellipse class="l" cx="741.300" cy="639.700" rx="6" ry="16.500" transform="rotate(-6 741.300 639.700)"/>
<path class="l" d="M735 627 C738 633 739 650 736 657 M747 620 C752 628 754 645 750 654.500"/>
<!-- core -->
<path class="k" d="M765.200 608.800 C773 616 777.500 628 777 640 C776.500 650 773 658 767.200 663.600 M844.900 594.900 C853 601 857 611 856.800 622 C856.500 634 853 644 848.800 650.600"/>
<path class="l" d="M769 613 L850.500 600.500 M773.500 621.500 L854.500 609 M776.500 630.500 L856.500 618.500 M777 640.500 L856 628.500 M775 650 L853.500 638 M771 658.500 L851 646.500"/>
<path d="M787 631.700 L847 624.700" stroke="#111" stroke-width="3" fill="none" stroke-linecap="round"/>
<path d="M792 631.200 L842 625.300" stroke="#fff" stroke-width=".8" fill="none" stroke-dasharray="5 3"/>
<!-- commutator -->
<path class="k" d="M882.700 595.900 C878 601 877 622 886.700 633.700"/>
<path class="l" d="M886 595.400 C882 602 882 623 889.500 633.200 M893 594.400 C899 602 901 622 895.500 632.200"/>
<path class="t" d="M883 602 L899.500 599.500 M882 608 L901 605.300 M882 614 L901.500 611.200 M882.500 620 L901 617.200 M884 626 L900 623.500"/>
<ellipse class="l" cx="932.500" cy="608" rx="2" ry="6.500"/>
<path class="l" d="M910.600 603.800 C912.500 607 912.500 614 910.600 617"/>
<!-- washer, 75, 76 -->
<path class="l" d="M936.500 607.400 L945.500 605.400 M964.400 604.800 L973 603 M988.800 599.600 L998.200 598.200 M1022 593.300 L1055 588.100"/>
<ellipse class="w" style="stroke-width:2.200" cx="955" cy="606.600" rx="9.400" ry="12.200" transform="rotate(-8 955 606.600)"/>
<path class="k" d="M958 594.500 C965 598 966 612 960 618.500"/>
<ellipse class="l" cx="954" cy="606.600" rx="3" ry="4.500"/>
<path class="l" d="M979 479.300 L979 585.700"/>
<ellipse class="k" cx="980.100" cy="600.300" rx="4.900" ry="8.400" transform="rotate(-8 980.100 600.300)"/>
<ellipse class="k" cx="982" cy="600" rx="4.900" ry="8.400" transform="rotate(-8 982 600)"/>
<path class="d" d="M1009.700 491.500 L1009.700 578.700"/>
<path class="w" style="stroke-width:2.200" d="M1004 583.500 L1010 582.800 C1017 585 1019.500 590 1019.500 596 C1019.500 603 1016 608 1011 609.300 L1005 609"/>
<ellipse class="w" style="stroke-width:2.400" cx="1005" cy="596.300" rx="7.500" ry="13" transform="rotate(-6 1005 596.300)"/>
<ellipse class="k" cx="1005" cy="596.300" rx="4" ry="8" transform="rotate(-6 1005 596.300)"/>
<!-- 4 sleeve -->
<path class="d" d="M1078.400 469 L1078.400 524.700"/>
<path class="w" style="stroke-width:2.200" d="M1060.300 536.900 L1100.300 528.100 C1118 531 1131.700 552 1131.700 578.700 C1131.700 605 1124 624 1112.500 629.200 L1063.800 639.700 C1044 637 1030 616 1029.600 589 C1029.600 562 1042 540 1060.300 536.900Z"/>
<path class="l" d="M1060.300 536.900 C1078 541 1090 560 1090 587 C1090 612 1080 633 1063.800 639.700"/>
<path class="l" d="M1065.500 547.300 C1060 560 1059 580 1062 589 C1066 606 1074 618 1084.700 624"/>
<!-- 18 stator -->
<path class="d" d="M1210.800 449.700 L1210.800 504.800"/>
<path class="l" d="M1316 545.600 L1345.700 541"/>
<path class="w" style="stroke-width:2.400" d="M1166.200 518.500 L1244 504.800 C1250 506 1255 510 1259.300 515.200 C1264 522 1267 529 1269.100 536 C1271 545 1271.500 560 1270.200 579.800 C1269 588 1268 593 1265.900 597.400 C1263 601 1260 603.500 1256 605 L1177 617.600 C1158 616 1143.500 594 1143.500 567 C1143.500 541 1153 521 1166.200 518.500Z"/>
<ellipse class="k" cx="1169.400" cy="567.800" rx="26" ry="49.800" transform="rotate(-7 1169.400 567.800)"/>
<path class="l" d="M1195.700 557.400 L1269 545.900 M1196.800 588.600 L1268 576.600 M1197.900 597.900 L1266 585.900"/>
<path class="k" d="M1196.800 593 L1267 580.900"/>
<!-- right winding -->
<path class="w" style="stroke-width:2.400" d="M1269.100 537 C1273 538 1276 540 1278 542.600 C1282 548 1283.400 553 1283.400 558 C1283.400 565 1283 570 1282.300 575.500 C1281 581 1278 585 1274.600 587.500 L1269 589"/>
<path class="l" d="M1271 549 L1282 551 M1271 562 L1283.500 562 M1270.500 574 L1282.500 571.500 M1270 583 L1279 582"/>
<!-- front windings -->
<ellipse class="k" cx="1174.900" cy="566.700" rx="17" ry="35" transform="rotate(-7 1174.900 566.700)" fill="#fff"/>
<path class="k" d="M1170.500 525 C1160 530 1150 548 1148.500 566 C1148 574 1150 580 1153 585"/>
<path class="l" d="M1163 532 L1169 538 M1157 540 L1164 545 M1152.500 550 L1160 553 M1149.500 561 L1158 563 M1149 572 L1157.500 571 M1151 582 L1158 579"/>
<path class="k" d="M1165.500 536 C1160 545 1157 557 1157 568 C1157 574 1158 578 1159 581"/>
<ellipse class="k" cx="1171.500" cy="528.500" rx="2.600" ry="4" transform="rotate(-15 1171.500 528.500)"/>
<ellipse class="k" cx="1171" cy="606" rx="2.600" ry="4" transform="rotate(-15 1171 606)"/>
<path class="k" d="M1159 571 L1160 580 L1176 578 M1176 578 L1177 604 M1181 557 C1184 556 1187 558 1188 562 L1186 572 C1183 578 1180 583 1179 590 C1180 596 1183 600 1186 601"/>
<path class="f" d="M1181 557 L1187 555 L1189 562 L1186 568 L1182 563Z"/>
<path class="l" d="M1179 590 L1187 592 M1178 600 L1185 603 M1180 580 L1188 580 M1176 610 L1182 606"/>
<path class="l" d="M1134.400 575 L1173.800 568.300"/>
<!-- wires -->
<path class="l" d="M1270.200 538.200 L1332.700 528.300 M1281.200 545.900 L1319.500 538.200 M1283.400 553.500 L1346.900 542.600 M1287.800 560 L1306.400 557.400"/>
<path d="M1310 540 L1322 537.500 M1293 559.500 L1305 557.500" stroke="#111" stroke-width="3.400" fill="none" stroke-linecap="round"/>
<path class="l" d="M1318 535 C1322 533 1326 535 1324 539"/>
<!-- 39 + 47 -->
<path class="l" d="M1159.300 610 L1159.300 681.500 L1154 682.500" stroke-dasharray="26 3"/>
<path class="k" d="M1150 676 C1154 675 1155 680 1152 684 C1151 687 1154 689 1156 687"/>
<path class="l" d="M1154 699 L1154 714.600"/>
<path class="w" d="M1041.500 701.500 C1042 699 1048 698 1050.500 699.500 C1052.500 702 1052.500 708 1051 710 C1048 712 1043 711.500 1041.500 709.500Z"/>
<path class="l" d="M1046 698.800 L1046.500 711.300 M1052 701.500 L1138.500 684.500 L1139 687.800 L1052 706"/>
<path d="M1118 690 L1138.500 686" stroke="#111" stroke-width="3.200" stroke-dasharray="2.200 0.900" fill="none"/>
<path class="d" d="M1095 704.200 L1095 727"/>
</g>

<!-- 15_housing.svg -->
<g id="brushholder">
<path class="l" d="M1379 361.600 L1453.800 361.600 M1371.700 384.600 L1447.600 384.600"/>
<path class="k" d="M1456.500 357 C1457 355 1464 355 1464.300 357 L1464.300 361.500 L1456.500 361.500Z"/>
<path d="M1460.300 362 L1460.300 374" stroke="#111" stroke-width="5" stroke-dasharray="2.200 0.900" fill="none"/>
<ellipse class="k" cx="1459.400" cy="384.200" rx="5" ry="2"/>
<path class="k" d="M1441 397 C1445 398 1444 405 1447 408 M1448 398 L1462 401.500 L1455 396.500 Z"/>
<path class="w" style="stroke-width:2" d="M1441.500 412 C1441.500 409 1456 408.500 1456.200 411 L1456.200 431 C1456 434 1442 434.500 1441.500 432Z"/>
<path class="l" d="M1446 411 L1446 433"/>
<path class="l" d="M1449.400 434.500 L1449.400 472.400"/>
<path class="d" d="M1459.400 403.700 L1459.400 457.600" stroke-dasharray="8 2 2 2"/>
<path class="d" d="M1510 402.500 L1510 423.300 L1463.600 473.600" stroke-dasharray="22 7"/>
<!-- holder body -->
<path class="w" style="stroke-width:2.600" d="M1440.300 481.200 L1445.200 476.300 C1450 474 1456 473.500 1460 473.900 C1464 474 1468 475 1470.500 476.300 C1474 478 1475.400 481 1475.400 483.700 L1475.400 505.800 L1477 512.300 L1482.700 515.600 L1485.200 522 L1485.200 541.700 L1481 554 L1474.600 561.300 L1460 566.200 L1453 566 L1448.400 567 L1442 564.600 L1437.800 558 L1438.600 541.700 L1432 528 L1427.200 525.400 L1417.400 525.400 L1416.600 492.700 L1430.500 491.900 L1435.400 487.800 Z"/>
<path d="M1416.600 492.700 L1430.500 491.900 L1435.400 487.800 L1440 487 M1417 493 L1417.400 525.400 L1427.200 525.400" stroke="#111" stroke-width="4" fill="none" stroke-linejoin="round"/>
<path class="f" d="M1427.200 522 L1435.400 516.400 L1440.300 517.200 L1443.500 533.500 L1440 538 L1433 529Z"/>
<path d="M1431 522 L1434 520 M1436 526 L1439 524 M1438 532 L1441 530" stroke="#fff" stroke-width="1.200"/>
<path class="k" d="M1440 487 L1439.400 510.700 C1440 515 1442 519 1443.500 522 C1446 527 1449 531 1451.700 533.500 L1459 538.400 M1443.500 508.200 C1444 514 1445 519 1446.800 523.700 C1449 528 1452 532 1455 534.300 L1460 537"/>
<path d="M1446.800 487.800 L1459 487 L1459.900 505.800 L1447.600 507.400 Z" fill="#fff" stroke="#111" stroke-width="2.600"/>
<path class="f" d="M1440.500 486 L1446 485 L1446.500 509 L1441 510Z" opacity=".8"/>
<path class="k" d="M1451 491 L1451 503 M1451 491 C1457 490 1457 496 1451 497 C1458 497 1458 503 1451 503"/>
<path d="M1460 476 L1460 506 M1460 523 L1460 552.500" stroke="#111" stroke-width="3.200" fill="none"/>
<path class="k" d="M1448 479 L1452 483 M1456 478 L1455 484 M1464 478 L1468 490 L1466 500 M1471 482 L1470 502 L1466 506"/>
<path class="k" d="M1460 523 L1464 523 L1464 518.800 L1472 518.800 M1466 514 L1470 519"/>
<path d="M1439.400 538.400 L1451.700 538.400 L1452 564 L1440 563 Z" fill="#fff" stroke="#111" stroke-width="2.600"/>
<path class="f" d="M1452 545 L1460 541 L1460 553 L1470 551 L1472 556 L1478 550 L1479 556 L1474 561 L1460 566 L1452 565Z" opacity=".9"/>
<path d="M1455 556 L1460 554.500 M1463 558 L1470 556 M1466 562 L1471 559.500" stroke="#fff" stroke-width="1.300"/>
<path class="k" d="M1443 543 L1443 560 M1447 543 L1447 561 M1443 551 L1447 551"/>
<path class="f" d="M1444 559 L1452 559 L1452 564.500 L1444 564Z" opacity=".7"/>
<path class="l" d="M1436 548 L1439 548"/>
<!-- upper clip -->
<path class="w" style="stroke-width:2.600" d="M1377.400 495 C1377.400 492.500 1388 492.500 1388 495 L1388 503.500 C1388 506 1378 506 1377.400 503.500Z"/>
<path class="l" d="M1383 494.500 L1383 504"/>
<path class="k" d="M1388 503.300 L1401 504 L1406 513 L1401 514 L1397.800 507.400"/>
<path class="l" d="M1393.700 497.600 L1411.700 495"/>
<!-- screw 54 -->
<path class="l" d="M1330 545.900 L1347.200 542.200"/>
<path class="w" style="stroke-width:2.200" d="M1362 531.500 C1362 528.500 1369 528.500 1369.200 531 L1369.200 539 C1369 541.500 1362.500 541.500 1362 539.500Z"/>
<path d="M1370 534 L1391 530.300" stroke="#111" stroke-width="4.200" stroke-dasharray="2 1" fill="none"/>
<path class="l" d="M1395.300 530.300 L1427.200 525.400 M1368.500 547 L1368.500 607.200"/>
<!-- 21 -->
<path class="w" style="stroke-width:2.400" d="M1393.700 546.600 L1397.800 545.800 L1398.600 551.500 L1414.900 562.900 L1415.800 569.500 L1414 573.600 L1406 573.600 L1404.300 562.900 L1394.500 552.300 Z"/>
<path class="l" d="M1404.300 562.900 C1408 560 1412 562 1411 568 L1410 573 M1417.400 564.600 L1437 560.500"/>
<path class="d" d="M1408.400 577.700 L1408.400 604.700" stroke-dasharray="10 3"/>
<!-- lower brush -->
<path class="l" d="M1449.400 571.600 L1449.400 596"/>
<path class="w" style="stroke-width:2" d="M1442.700 603 C1443 600.500 1456.500 600.500 1457 603 L1457 620 C1456.500 622.500 1443 622.500 1442.700 620Z"/>
<path class="l" d="M1447 602 L1447 621"/>
<path class="k" d="M1446 625 C1441 630 1442 638 1449 639 C1453 639 1455 636 1454 632 M1448 631 L1460 634 L1455 629Z"/>
<path class="l" d="M1455 640 L1455 658.600"/>
</g>
<g id="housing">
<!-- 1 -->
<path class="d" d="M1549 391 L1549 428.700"/>
<path class="w" style="stroke-width:2.400" d="M1507.600 443.300 L1745.300 404.500 L1752 405.500 L1775.600 418 C1782 428 1786 436 1786.200 445.400 L1787.800 481.800 C1787 492 1785 500 1783.200 506 C1780 516 1775 524 1769.600 530.200 L1543.700 573.100 L1536.400 573.800 L1502 547.400 L1497.200 530.300 L1494 501 L1496 481.300 L1502 454.300 Z"/>
<path class="k" d="M1507.600 443.300 L1516.800 444.500 L1547.400 466.600 L1552.300 478.800 L1555.300 499.600 L1554.700 518 L1549.800 548.600 L1543.700 573.100"/>
<path class="l" d="M1510.600 452 L1500.800 478.800 L1499 505.800 L1504.500 537.600 M1544.900 552.300 L1551.700 518 L1551 493.500 L1546.200 475 L1529 456.800 L1512 450"/>
<path class="l" d="M1510 544 L1535 560" stroke-dasharray="5 3"/>
<path class="l" d="M1527.800 459.200 C1523 470 1521.500 482 1521.700 493.500 C1522 505 1523 515 1526.600 524 C1531 535 1537 544 1544.900 550"/>
<ellipse class="l" cx="1512.500" cy="448.800" rx="2.200" ry="3.600" transform="rotate(-25 1512.500 448.800)"/><ellipse class="l" cx="1544.900" cy="471.500" rx="2.200" ry="3.600" transform="rotate(-15 1544.900 471.500)"/><ellipse class="l" cx="1506.300" cy="540.700" rx="2.200" ry="3.600" transform="rotate(-15 1506.300 540.700)"/><ellipse class="l" cx="1540" cy="564.600" rx="2.200" ry="3.600" transform="rotate(-10 1540 564.600)"/>
<path class="f" d="M1541.300 481 L1546 488.600 L1541.300 488.600Z M1549 520 L1552 526 L1549 527Z"/>
<path class="l" d="M1547.400 461 L1768 427.200 M1551 468 L1769.600 433.300 M1768 427.200 L1775.600 418"/>
<path class="t" d="M1575 457.500 L1680 441.500 M1720 437.800 L1768 430"/>
<path class="l" d="M1565.800 522.900 L1778.700 483.300 L1778.700 495.400 M1565.800 522.900 L1565.800 530.300"/>
<path class="k" d="M1565.800 530.300 L1778.700 493.400"/>
<path class="l" d="M1558.400 538.800 L1778 498.500"/>
<path class="l" d="M1695.400 413.600 L1724 407.500 L1739.300 416.600 L1710.500 424.200 Z M1702 418 L1730 411.500 M1708 422 L1737 415"/>
<path class="f" d="M1743 411 L1749 410 L1749.500 416 L1743.500 417Z"/>
<!-- label plate 70 -->
<path class="l" d="M1633.300 339.400 L1633.300 380.300"/>
<path class="l" d="M1612 388 L1642.300 383.300 L1668 400 L1637.800 406 Z"/>
<path class="d" d="M1635.700 407.500 L1635.700 430.300" stroke-dasharray="8 3"/>
<!-- 22 + 48 -->
<path class="w" d="M1694 362 L1742.300 353 L1765 363.600 L1765 369 L1716.600 377.200 L1694 366.500Z"/>
<path class="l" d="M1694 362 L1716.600 372.700 L1765 363.600 M1716.600 372.700 L1716.600 377.200 M1769.600 363.600 L1818 363 M1757.500 329.700 L1813.500 328.800"/>
<ellipse class="k" cx="1746" cy="358" rx="3" ry="1.600"/>
<path class="l" d="M1745.300 372.700 L1745.300 416.600"/>
<path class="k" d="M1741 321 C1741 319 1751 319 1751.400 321 L1751.400 328.500 L1741 328.500Z"/>
<path d="M1746 329 L1746 347" stroke="#111" stroke-width="5.500" stroke-dasharray="2.200 0.900" fill="none"/>
<!-- 62 61 -->
<path class="d" d="M1806 437.800 L1806 478.700" stroke-dasharray="10 4 2 4"/>
<path class="d" d="M1850 427.200 L1850 437 M1851 467 L1851 472" stroke-dasharray="2 4"/>
<path class="l" d="M1790.800 493.900 L1800 492.400 M1812 490.200 L1819.500 489 M1830.200 486.300 L1839 484.800"/>
<ellipse cx="1804.800" cy="491" rx="2.600" ry="6" transform="rotate(-8 1804.800 491)" fill="none" stroke="#111" stroke-width="2.600"/>
<ellipse class="l" cx="1824" cy="487.800" rx="3.600" ry="6.500" transform="rotate(-8 1824 487.800)"/>
<path class="l" d="M1822.500 480 L1825 483 M1822.500 492.500 L1826 495.500 M1824 481 L1824 494"/>
<path d="M1841 484.500 L1856 481.800" stroke="#111" stroke-width="4.400" fill="none"/>
<ellipse class="w" style="stroke-width:2" cx="1858.500" cy="481.500" rx="3" ry="5.500"/>
<circle class="l" cx="1853" cy="507.500" r="9.700" style="stroke-width:1.800"/>
<path class="l" d="M1853 500 L1853 506 M1847.500 506 L1858.500 506 M1849 509 L1857 509 M1851 512 L1855 512"/>
<path class="d" d="M1825.600 497 L1825.600 545.400" stroke-dasharray="8 2 2 2"/>
<!-- 23 -->
<path class="l" d="M1562 596.300 L1600 596.300"/>
<path class="l" d="M1600 587.800 L1654.500 577.200 L1668 586.300 L1612 600 Z"/>
<path class="d" d="M1609 580 L1655 581" stroke-dasharray="6 3" style="stroke-width:1"/>
<path class="d" d="M1609 563.600 L1609 574.200" stroke-dasharray="3 2"/>
<!-- lower bracket -->
<path class="l" d="M1743.800 536.300 L1743.800 560"/>
<path class="w" style="stroke-width:2.200" d="M1690.800 569.600 L1736.300 559 L1763.500 575.700 L1763.500 580 L1715 591 L1690.800 574Z"/>
<path class="k" d="M1690.800 569.600 L1715 586.300 L1763.500 575.700 M1715 586.300 L1715 591"/>
<path class="l" d="M1700 570.500 L1733 563 L1742 569 L1709 577Z"/>
<path d="M1702 569 L1732 562" stroke="#111" stroke-width="2.600" stroke-dasharray="2 1.500" fill="none"/>
<path class="w" style="stroke-width:2" d="M1739 566 C1739 562 1749 562 1749 566 L1749 570 C1749 573 1739 573 1739 570Z"/>
<path d="M1744 593 L1744 612" stroke="#111" stroke-width="5" stroke-dasharray="2.200 0.900" fill="none"/>
<path class="k" d="M1738 614 C1738 612 1750 612 1750 614 L1750 621 C1750 623.500 1738 623.500 1738 621Z M1744 613 L1744 622"/>
<!-- 29 strip -->
<path class="l" d="M1562 666 L1648.400 667.200"/>
<path class="l" d="M1560.600 687.800 L1772.600 641.700 L1774 652.900 L1562 700 Z"/>
<text x="1580" y="693" font-size="7" font-weight="bold" transform="rotate(-12.300 1580 693)" letter-spacing="2">BOSCH</text>
</g>

<!-- 16_switch.svg -->
<g id="switch">
<!-- 802 bracket -->
<path class="l" d="M652.700 949.300 L653.500 983 M629.200 1020.600 L628.500 990 L680.900 979 L680.900 1006.500"/>
<!-- plate -->
<path class="w" style="stroke-width:2.200" d="M618.300 1023.700 L623 1019.800 L633.900 1025.300 L641.800 1034.600 L643.300 1050.300 L649.600 1056.600 L651.200 1095.700 L641.800 1112.900 L637 1112 L619.800 1098.800 L618.300 1088 L613.600 1056.600 L613.600 1039.300 Z"/>
<path d="M643.200 1051.300 L648.500 1055 L651.200 1101.800 L645 1113.300 L640.500 1114.200 L642.300 1106 L645 1101 L644 1057.500Z" fill="#555" stroke="#111" stroke-width="1.200"/>
<path class="k" d="M620 1026 L628 1024 L634 1030 L636 1040 L630 1043 L622 1038 Z M622 1042 C616 1055 617 1072 624 1082 C628 1088 632 1090 638 1090 M639 1050 C642 1058 642 1066 640 1072"/>
<path class="f" d="M616 1062 L621 1064 L623 1074 L618 1073Z M634 1075 L640 1074 L640 1086 L635 1086Z" opacity=".8"/>
<path class="l" d="M572 1017 L575 1022 M571.300 1020 C578 1030 584 1040 592 1041.500 L615 1042.500"/>
<circle class="f" cx="573" cy="1019" r="1.500"/>
<!-- axis -->
<path class="l" d="M643.300 1034.600 L673 1028.400 M695 1022 L726.300 1016"/>
<path class="d" d="M540 1081.600 L605.800 1068.300" stroke-dasharray="40 6"/>
<!-- block -->
<path d="M670.600 1016 L675 1013.300 L683 1013.300 L695.400 1025.700 L694.500 1032 L687.400 1035.400 L684 1034.500 L672.400 1024 Z" fill="#222" stroke="#111" stroke-width="2.200" stroke-linejoin="round"/>
<path d="M676 1017 L690 1029 M673.500 1020.500 L686 1032" stroke="#fff" stroke-width="1.500" fill="none"/>
<!-- washer + screw 45/55 -->
<path class="l" d="M652.700 1078.500 L660.600 1077"/>
<ellipse cx="665" cy="1076.500" rx="3.800" ry="6.800" transform="rotate(-10 665 1076.500)" fill="#333" stroke="#111" stroke-width="1.600"/>
<path d="M663.500 1073 L664.500 1080" stroke="#fff" stroke-width="1.200"/>
<path d="M674.200 1074.300 L696 1068.200" stroke="#111" stroke-width="5" fill="none"/>
<path d="M678 1073 L694 1068.800" stroke="#fff" stroke-width="1.300" stroke-dasharray="1.500 2" fill="none"/>
<path d="M671 1076 L675 1072" stroke="#111" stroke-width="2"/>
<path class="w" style="stroke-width:2.400" d="M695 1064 C698 1061 703 1062 704.400 1065 C705.500 1069 704 1072.500 700 1073.500 C697 1073.500 694 1069 695 1064Z"/>
<path class="l" d="M699 1062.500 L700.500 1073"/>
<!-- 40, 42 -->
<path class="l" d="M705.200 935.200 L705.200 954.800 M742 950 L728 969"/>
<path class="k" d="M691 958 C691 954 696 953 698 956 L697 962 C694 964 691 962 691 958Z"/>
<path d="M698 960 L712 970" stroke="#111" stroke-width="4" stroke-dasharray="2.200 0.900" fill="none"/>
<circle cx="720" cy="976.700" r="3.600" fill="none" stroke="#111" stroke-width="2.800"/>
<path class="d" d="M725.500 981.400 L732.500 985.300" stroke-dasharray="2 2"/>
<!-- switch body -->
<path class="w" style="stroke-width:2.400" d="M740 991.200 L753.600 986 L752.300 979.600 L760 977.500 L759.400 968.500 C761 966.500 770 966 771 968 L771.700 977.500 L776.900 977.600 L780.800 980 L797.600 977 L817 979.600 L826.700 974.400 L835 977 L836.400 982.200 L837 1000 L835 1013 L824 1017 L812 1014 L806 1026 L796 1031 L778 1036 L756.200 1038 L749 1037.800 L742 1031.300 L740 1010 Z"/>
<!-- left bracket -->
<path class="w" style="stroke-width:2.400" d="M728.400 988 C728 982 737 979 740.500 984 C742 988 741.500 992 740 994 L740 1028 C742 1031 741 1035 737 1036 C731 1037 726 1031 727.500 1026 C728 1023 730 1022 732.300 1022.900 L732.300 993.800 C729.500 993 728.400 991 728.400 988Z"/>
<path d="M736 996 L736 1028" stroke="#111" stroke-width="3.200" opacity=".6"/>
<path class="k" d="M732.300 993.800 C734 995 737 995.500 740 994 M732.300 1022.900 L740 1020"/>
<!-- box edges -->
<path class="k" d="M740 993.800 L755.600 1003 L756.200 1034.500 M743.500 992.500 L757 1000.500 M755.600 1003 L766 1000"/>
<!-- button -->
<path class="k" d="M752.300 979.600 L753.600 986 L762 990 L778.200 987.300 L780.800 982.200 M762 990 L762 993 L779 990 L781 985"/>
<path d="M760 978 L771.500 977.500 L771 968 L759.500 968.500Z" fill="#fff" stroke="#111" stroke-width="2.400"/>
<path d="M762 970 L762.500 977" stroke="#111" stroke-width="2"/>
<!-- top wire -->
<path d="M780.800 980.500 L797.600 977.800" stroke="#111" stroke-width="3.600" fill="none"/>
<path class="k" d="M797.600 977.500 L817 980 L826.700 975 C830 974 834 975 835.500 977.500 L836.400 982.500" stroke-dasharray="7 2"/>
<path class="k" d="M797.600 980 L812 991 L817 1000"/>
<!-- terminals -->
<g fill="none" stroke="#111" stroke-width="2.200" stroke-linecap="round" stroke-linejoin="round">
<path d="M757 1004 L757 1017 M757 1004 C764 1002 764 1011 757 1012"/>
<path d="M765.500 1007 L765.500 1016 C771 1016 771 1007 765.500 1007Z"/>
<path d="M772.500 1000 L772.500 1017 M772.500 1000 C783 998 783 1008 773 1008.500 C785 1008 785 1018 772.500 1017"/>
<path d="M787.500 997.500 L787.500 1007 M787.500 997.500 C794.500 996 794.500 1004 787.500 1004.500"/>
<path d="M757 1023 L757 1037 M761 1022 L761 1037 M757 1029 L761 1029"/>
<path d="M774 1025 L774 1033 M774 1025 C780 1024 780 1031 774 1031.500"/>
<path d="M780 1024 L780 1033 M780 1024 C786 1023 786 1030 780 1030.500"/>
<path d="M789 1021.500 L789 1031 M789 1021.500 C796 1020 796 1028 789 1028.500"/>
<path d="M766 1022 L766 1038 M770 1022 L770 1037"/>
</g>
<path d="M798.500 1000 L798.500 1020 M802 999 L802 1019" stroke="#111" stroke-width="2.800"/>
<path class="f" d="M756 1020 L763 1019 L764 1024 L757 1025Z M803 993 L809 993 L808 1000 L804 1000Z" opacity=".85"/>
<path class="k" d="M797 1031 L802 1028 L806 1024 M794 1034 L797 1031"/>
<!-- right part -->
<path class="k" d="M816 1003 C810 1004 808 1012 811 1017 C813 1019 816 1018 817 1016 M812 995 C815 1000 817 1003 820 1003 L826 1001 M817 988 L824 984 L829 986 L828 992 M822 990 L824 995"/>
<path class="k" d="M820 1003 C824 998 832 998 835 1001 M819 1012 C824 1015 832 1014 836 1010" />
<circle cx="828" cy="1009.300" r="2.800" fill="#111" opacity=".85"/>
<path class="l" d="M836.500 985 L837 1012" stroke-dasharray="4 2"/>
<path class="l" d="M759.500 1039 L760 1046"/>
<!-- 17 screws -->
<circle class="f" cx="811.600" cy="936.800" r="1.200"/>
<path d="M823 944 L833 953" stroke="#111" stroke-width="5" stroke-dasharray="2.200 0.900" fill="none"/>
<ellipse class="w" style="stroke-width:2.200" cx="835" cy="955" rx="3.400" ry="5" transform="rotate(-40 835 955)"/>
<path d="M835 1055 L843 1062" stroke="#111" stroke-width="4.500" stroke-dasharray="2.200 0.900" fill="none"/>
<ellipse class="w" style="stroke-width:2.200" cx="846" cy="1064" rx="3.400" ry="5" transform="rotate(-40 846 1064)"/>
<!-- wires -->
<path class="k" d="M842.700 990.400 L899.900 979.300 C908 979 915 981 920.800 983.500 M845 994 L901 984 C908 984 914 987 918 990"/>
<path class="k" d="M853.900 1004.400 L859.400 1004.400 L901.300 998.800 L915.200 990.400 M858 1015.500 L862.200 1011.400 L898.500 1007.200 L903 1004 L921 1000 M853.900 1004.400 L858 1015.500 M901.300 998.800 C903.500 1001 903.500 1005 901 1007"/>
<path class="k" d="M853.900 1011.400 L807.900 1049 M858 1015.500 L817.600 1044.800"/>
<path class="k" d="M897 1012.800 L885.900 1071.300 L805 1088 M905.500 1011.400 L892.900 1075.500 L791 1096.400"/>
<path class="k" d="M923.600 1003 L902.700 1081 L773 1109 M929.200 1008.600 L908.300 1086.700 L767.400 1116.600"/>
<path class="t" d="M837 991.800 L892.900 1033.700 L937.500 1065.700 M946 1072.700 L965.400 1088"/>
<path class="d" d="M817.600 1040.600 L831.600 1050.400" stroke-dasharray="4 3"/>
<circle class="f" cx="760" cy="1113" r="1.200"/>
<!-- washer+screw bottom (45/55) -->
<ellipse class="k" cx="770" cy="1127" rx="2.600" ry="4" transform="rotate(-35 770 1127)"/>
<ellipse class="k" cx="771.500" cy="1128.200" rx="1.500" ry="3" transform="rotate(-35 771.500 1128.200)"/>
<path d="M776 1131 L784 1138" stroke="#111" stroke-width="4.200" stroke-dasharray="2.200 0.900" fill="none"/>
<ellipse class="w" style="stroke-width:2.200" cx="787.500" cy="1141" rx="3.400" ry="5" transform="rotate(-40 787.500 1141)"/>
<!-- 56 clip -->
<path class="w" style="stroke-width:2.200" d="M934 1066 C934 1062 945 1061 947 1065 L947.200 1073 C942 1076 944 1084 946 1088 L946 1100 C944 1104 934 1104 932.500 1100 L932.300 1092 C937 1086 936 1078 934 1074Z"/>
<rect class="l" x="937.500" y="1066.500" width="5" height="5"/><rect class="l" x="936.500" y="1093" width="5" height="5"/>
<path class="l" d="M939.800 1106 L939.800 1147.700"/>
<!-- 41 -->
<path d="M964 1090 L975 1098" stroke="#111" stroke-width="4.500" stroke-dasharray="2.200 0.900" fill="none"/>
<ellipse class="w" style="stroke-width:2.200" cx="979" cy="1099.500" rx="3.600" ry="5.400" transform="rotate(-40 979 1099.500)"/>
<path class="d" d="M977 1107.400 L977 1139" stroke-dasharray="9 3 2 3"/>
</g>
<g id="cap">
<!-- 31 capacitor -->
<path class="l" d="M953.800 889.300 L953.800 965.500"/>
<path class="w" style="stroke-width:2.200" d="M923.300 983.400 L977 968.500 C986 972 992 980 992 989.400 C992 1000 989 1008 981.600 1007.300 L933.800 1017.800 Z"/>
<ellipse cx="929.300" cy="1000" rx="8" ry="16.400" fill="#fff" stroke="#111" stroke-width="3.400" transform="rotate(-12 929.300 1000)"/>
<ellipse class="l" cx="930" cy="1000" rx="4.500" ry="11.500" transform="rotate(-12 930 1000)"/>
<path class="k" d="M924 990 L936 1010 M927 986 L939 1004"/>
<!-- 13 -->
<path class="l" d="M995 986.400 L1010 982.800 M1041.400 975.900 L1054.800 973"/>
<ellipse class="w" style="stroke-width:2.200" cx="1021.900" cy="980" rx="15" ry="27" transform="rotate(-6 1021.900 980)"/>
<path class="l" d="M1026 953.500 C1036 958 1040 972 1039 984 C1038 996 1032 1005 1026 1006.500"/>
<ellipse class="k" cx="1018" cy="980.500" rx="2.800" ry="6.500" transform="rotate(-6 1018 980.500)"/>
<path class="d" d="M1029.400 1012 L1029.400 1080" stroke-dasharray="22 5 3 5"/>
<!-- 16 wire end -->
<path class="t" d="M1040 975.700 L1064 968 M1051 974.500 L1062 971.500"/>
<path class="w" style="stroke-width:2" d="M1065.200 964.800 L1092.600 958.800 L1091.500 970.800 L1066.300 975.700 C1063.500 974 1063 967 1065.200 964.800Z"/>
<path class="d" d="M1079.400 978 L1079.400 1070" stroke-dasharray="26 6 3 6"/>
<!-- 15 cord guard -->
<path class="w" style="stroke-width:2.200" d="M1127.700 942.900 L1207.600 931.400 L1208.700 946.700 L1133 968 L1122 975Z"/>
<path class="w" style="stroke-width:2.400" d="M1117 941.500 L1123.300 941.200 C1128 945 1131 951 1131 957 C1131 964 1129 970 1125.500 974.600 L1119 977 Z"/>
<path class="w" style="stroke-width:2.400" d="M1110 941.800 L1117 941.300 C1121 945 1123.300 953 1123.300 960.400 C1123.300 967 1121 973 1116.700 976.800 L1111 979.500 Z"/>
<path class="f" d="M1118 946 C1121 950 1122.500 955 1122.500 960 C1122.500 966 1121 971 1118.500 974.500 L1121.500 973 C1124 968 1125 962 1124.500 957 C1124 952 1122 948 1120 945Z" opacity=".7"/>
<path class="w" style="stroke-width:2.400" d="M1101.400 943 L1108 942 C1113 946 1115.500 954 1115.500 962.600 C1115.500 971 1112 979 1106 983 L1101.400 983.400 Z"/>
<ellipse class="w" style="stroke-width:2.400" cx="1098" cy="963.700" rx="11.300" ry="19.700" transform="rotate(-7 1098 963.700)"/>
<ellipse class="l" cx="1096" cy="963.900" rx="4.500" ry="7.200" transform="rotate(-7 1096 963.900)"/>
<path d="M1066 965 L1096 958.300 L1096.500 970 L1067 975.500Z" fill="#fff"/>
<path class="l" d="M1065.200 964.800 L1096.500 958 M1066.300 975.700 L1096 970.200" style="stroke-width:2"/>
<ellipse cx="1214.200" cy="939" rx="5" ry="10.200" transform="rotate(-8 1214.200 939)" fill="#fff" stroke="#111" stroke-width="2.800"/>
<path class="k" d="M1217 929 C1221 932 1222 944 1218 949"/>
<path class="w" style="stroke-width:1.800" d="M1220.800 933.600 L1236 931.400 L1237.200 939 L1222 941.800"/>
<path class="l" d="M1236.500 932.500 L1248.200 930.300 M1237 937.500 L1250.400 934.700"/>
<path class="d" d="M1141 970.300 L1141 1056.700" stroke-dasharray="24 5 3 5"/>
<!-- axis -->
<path class="d" d="M1250.400 931.200 L1282 925.200 M1302.700 920.800 L1377.400 904.300" stroke-dasharray="30 6"/>
<!-- 36 clip -->
<path class="w" style="stroke-width:2" d="M1262.300 832 C1262.300 828.500 1271.300 828.500 1271.300 832 L1271.300 937 L1275.800 943.200 L1277.300 953.600 L1282 959 L1292.200 956.600 L1292.200 920.800 L1299.700 920.800 L1299.700 961 L1289.200 962.600 L1287.700 970 L1278.800 970 L1269.200 961 L1268.300 946.200 L1262.300 943.200 Z"/>
<path class="d" d="M1290.700 976 L1290.700 1018" stroke-dasharray="12 4 2 4"/>
</g>

<!-- 17_handle.svg -->
<g id="handle">
<!-- 14 -->
<path class="w" style="stroke-width:2.400" d="M1332.900 865.300 L1339 852 L1346.700 845.700 L1371.500 840 L1379 842.400 L1402.900 857.600 L1405.500 858 L1422.700 856.500 L1535.500 840 L1538.600 835.300 L1544.900 836 L1570 850.200 L1573 891 L1568.400 897.200 L1559 896.400 L1554.300 891 L1498 908.200 L1451 920.700 L1429 928.500 L1419 934 L1405.800 949.200 L1396.300 957.700 L1386.700 960 L1379 963.500 L1371.500 961.600 L1368.600 954 L1362.900 947.300 L1348.600 944.400 L1339 935 L1336.200 912 Z"/>
<path class="k" d="M1346.700 845.700 L1351.500 849 L1381 867.200 L1403.900 862.400 M1381 867.200 L1386.700 883.400 L1390.500 902.400 L1396.300 902.400 L1397.200 935 L1394.400 944.400 L1386.700 956.800 L1379 963.500"/>
<path class="k" d="M1358 858.600 L1379 872 L1383 892 L1383 933 L1379 936.800 L1365.800 935 L1358 915.800 L1357.200 868 Z"/>
<path class="k" d="M1339 852 L1351.500 849 M1351.500 849 L1358 858.600 M1341 858 L1343 930 L1348.600 944.400"/>
<path d="M1355 862 L1355.500 912" stroke="#111" stroke-width="2.600" opacity=".65"/>
<circle cx="1347.600" cy="861.500" r="4" fill="#fff" stroke="#111" stroke-width="2.600"/>
<path class="f" d="M1333 866 L1339 853 L1343 856 L1342 868Z" opacity=".9"/>
<path class="f" d="M1343 874 L1353 872.500 L1353 877 L1343 878.500Z M1343 882 L1353 880.500 L1353 885 L1343 886.500Z M1343 890 L1353 888.500 L1353 893 L1343 894.500Z M1343 898 L1353 896.500 L1353 901 L1343 902.500Z M1343 906 L1353 904.500 L1353 908 L1343 909.500Z" opacity=".85"/>
<path class="k" d="M1343 912 L1357 910 M1347 912 L1347 926 M1351 911 L1352 920"/>
<circle cx="1355.300" cy="929" r="5" fill="#fff" stroke="#111" stroke-width="2.600"/>
<path class="f" d="M1340 920 L1346 924 L1350 936 L1342 934Z" opacity=".85"/>
<path class="k" d="M1348.600 944.400 L1360 940 L1365.800 935 M1362.900 947.300 L1370 944 L1378 945 L1383 933"/>
<path class="f" d="M1366 946 L1372 944 L1382 950 L1386 958 L1379 963 L1371.500 961.600 L1368.600 954Z" opacity=".9"/>
<path d="M1372 950 L1376 957 M1377 949 L1381 955" stroke="#fff" stroke-width="1.400"/>
<circle class="f" cx="1370" cy="886.200" r="2.300"/>
<ellipse class="k" cx="1379.500" cy="884" rx="2.600" ry="5.500"/>
<path class="l" d="M1359 918.700 L1381 914.800 M1320 915.800 L1377 903.400"/>
<path class="k" d="M1390.500 902.400 L1390.500 940"/>
<path class="f" d="M1391.500 906 L1395.500 906 L1396 932 L1392 938Z" opacity=".55"/>
<path class="l" d="M1392 912 L1396 912 M1392 918 L1396 918 M1392 924 L1396 924 M1392 930 L1396 930"/>
<!-- ribs -->
<path class="f" d="M1404 874 L1413 872 L1409 884 L1404 884Z M1404 890 L1420 880 L1420.500 888 L1405 900Z M1405 904 L1420.500 893 L1420.500 901 L1405 914Z M1405 918 L1420.500 907 L1420.500 914 L1405 927Z M1405 931 L1420 920 L1420 927 L1406 938Z M1408 941 L1419.500 932 L1419 936 L1412 944Z"/>
<path class="k" d="M1403.900 862.400 L1403 938 M1420.500 889 L1419.500 933"/>
<path class="k" d="M1419 934 L1440 924.400"/>
<!-- top detail -->
<ellipse class="k" cx="1413.400" cy="859.600" rx="8" ry="3.200"/>
<path class="k" d="M1410 866 L1430 862 L1432 866 L1412 871 Z M1405.500 858 L1404 862"/>
<path class="l" d="M1425.900 856.500 L1535.500 840 M1432 870.600 L1541.800 851.800 M1454 880 L1545 861.200"/>
<path class="k" d="M1535.500 840 L1563.700 856.500 L1566.800 891 M1554.300 891 L1559 880"/>
<path class="l" d="M1436.800 844.700 L1447.800 851.800 M1519.800 823.600 L1530.800 826"/>
<text x="1423" y="892" font-size="14" transform="rotate(-11 1423 892)">1–0</text>
<path class="l" d="M1302.700 920.800 L1320 915.800"/>
<path class="d" d="M1390.600 966 L1390.600 1003" stroke-dasharray="18 4"/>
<!-- 19 slider -->
<path class="w" style="stroke-width:2.200" d="M1394.600 781.300 L1400.800 775 L1427.400 768 L1436.800 768.800 L1444.700 775.800 L1444.700 780.500 L1438.400 786 L1426 786.800 L1419.600 795.400 L1418 801.700 C1414 805 1402 805 1399.300 801.700 L1397.700 797 L1394.600 790.700 Z"/>
<path class="k" d="M1394.600 781.300 C1398 786 1416 786 1419.600 781 L1436.800 777 L1444.700 775.800 M1397.700 797 C1402 800 1414 800 1419.600 795.400 M1419.600 781 L1419.600 786 L1426 786.800"/>
<path class="l" d="M1402 777 L1426 771 L1434 772 M1404 780 L1428 774 M1430 787 L1430 791 M1434 786.500 L1434 790"/>
<ellipse class="l" cx="1410" cy="775" rx="4" ry="1.500"/>
<path class="l" d="M1355.400 790.400 L1391.400 790.700 M1372 791.500 L1372 825.200 L1393 825.900 M1408.300 805.600 L1408.300 811 M1408.700 836 L1409.400 858"/>
<!-- 69 -->
<path class="w" style="stroke-width:2.600" d="M1395.500 826 L1395.500 831 C1397 838 1420 838 1422 831 L1422 826"/>
<ellipse cx="1408.700" cy="825.900" rx="13.300" ry="5.500" fill="#fff" stroke="#111" stroke-width="2.800"/>
<ellipse class="k" cx="1408.700" cy="826.500" rx="6" ry="2.200"/>
<path class="l" d="M1426.700 825.900 L1445.500 826.300"/>
<!-- 40, 42 -->
<path class="l" d="M1499 765.700 L1499 783.700"/>
<circle class="f" cx="1499" cy="796.200" r="1.200"/>
<ellipse class="w" style="stroke-width:2.400" cx="1492.500" cy="807" rx="3.600" ry="5.600" transform="rotate(-25 1492.500 807)"/>
<path d="M1496 809 L1509 814.500" stroke="#111" stroke-width="4.200" stroke-dasharray="2.200 0.900" fill="none"/>
<path class="d" d="M1536.300 783.700 L1522.200 809.500" stroke-dasharray="12 4"/>
<circle cx="1519" cy="819" r="2.800" fill="none" stroke="#111" stroke-width="2.400"/>
<path class="l" d="M1519.800 823.600 L1530.800 826 L1436.800 844.700"/>
<!-- 38 -->
<path class="l" d="M1419.600 936.300 L1438.400 935.600 L1468.200 954.400 L1488.500 950.400"/>
<path class="w" d="M1488.500 945.700 L1519.800 938 L1520.500 944 L1489.500 951.500Z"/>
<path d="M1490 948.500 L1512 943" stroke="#111" stroke-width="4" stroke-dasharray="2.200 0.900" fill="none"/>
<path class="w" style="stroke-width:2.200" d="M1520 934.500 C1523 931.500 1530 932 1531.600 935 L1531.600 943 C1530 946.500 1523 947 1520.500 944Z"/>
<path class="l" d="M1526 932.500 L1526.500 946"/>
<path class="d" d="M1508.600 953.600 L1508.600 972" stroke-dasharray="2 5"/>
</g>
<g id="cable">
<path class="t" d="M1587.300 852 L1605.200 849 M1587.300 855.500 L1611 852.500"/>
<path class="w" d="M1605.200 846 L1769.500 809.500 L1808.400 798.300 C1815 796 1822 786 1832.300 778.800 L1850.200 773 L1865 781.800 L1868 814.700 L1841.200 820.700 C1832 816 1824 810 1818 808.500 L1769.500 820.700 L1611.200 855 C1607 854 1604 850 1605.200 846Z"/>
<path class="l" d="M1769.500 809.500 C1771 813 1771 818 1769.500 820.700 M1611.200 855 C1608.500 852 1608.500 848 1610 845"/>
<path class="l" d="M1832.300 778.800 C1828 790 1832 806 1841.200 820.700 M1850.200 773 C1856 774 1860 778 1862 783 M1851 784 L1851 814"/>
<path class="d" d="M1851 780 L1851 818" stroke-dasharray="5 3"/>
<path class="k" d="M1865 795.300 L1888 792 C1890 793 1890 796 1888 797 M1858 800 L1866 799 L1866 806 L1858 807Z"/>
<path class="l" d="M1853 774 L1858 770 L1866 772 L1868 778"/>
<path class="d" d="M1781.500 849 L1781.500 872" stroke-dasharray="2 5"/>
<circle class="f" cx="1873" cy="847" r="1"/>
</g>

<!-- 20_wiring.svg -->
<g id="wiring1"><g stroke="#111" stroke-width=".3" id="w1t">
<style>.dd{stroke:#111;stroke-width:1.500;fill:none;stroke-dasharray:16 4 3 4}.wk{stroke:#111;stroke-width:2.400;fill:none;stroke-linejoin:round}.wl{stroke:#111;stroke-width:1.600;fill:none;stroke-linejoin:round}</style>
<text x="125" y="1254.500" font-size="21.400">Motorgehäuse</text>
<text x="294" y="1254.500" font-size="20.500">zum Polschuh</text>
<text x="296.500" y="1275.500" font-size="14.500">(Feld)</text>
<text x="453" y="1253.600" font-size="21">Kondensator</text>
<text x="602" y="1252" font-size="20.300">Schalter</text></g>
<path class="dd" d="M127 1274.500 L268.200 1274.500 L271 1412.200 M130.500 1412.200 L127 1274.500"/>
<path class="wl" d="M130.500 1412.200 L251 1413"/>
<path class="dd" d="M251 1413 L271 1412.200" stroke-dasharray="4 3"/>
<circle class="wl" cx="188.700" cy="1342.500" r="34.200" style="stroke-width:1.800"/>
<text x="188.700" y="1351" font-size="24" text-anchor="middle">M</text>
<rect class="f" x="180.400" y="1298" width="15" height="11"/>
<rect class="f" x="182.800" y="1375.600" width="15" height="10.500"/>
<path class="wl" d="M195 1300 L233.400 1300 L233.400 1332 M197.800 1384.300 L236.800 1384.300 L236.800 1353"/>
<rect class="f" x="233.400" y="1328" width="21" height="7.500"/>
<rect class="f" x="233.400" y="1348.700" width="21" height="7.700"/>
<circle class="wl" cx="250.800" cy="1313.500" r="3.500"/>
<path class="dd" d="M254.500 1313.500 L381.500 1312.800 L383.200 1292 L484 1290.900"/>
<path class="wl" d="M303 1278 L303.800 1307.600"/>
<path class="wk" d="M254.300 1332 L456.400 1330.300 L458.200 1278 L484.300 1277.300 M254.300 1353 L468.600 1351.200 L470.400 1303.400 L484.300 1302.400"/>
<path class="dd" d="M482.600 1265.800 L543.600 1265 L543.600 1314 L482.600 1314 Z"/>
<path class="wl" d="M484.300 1277.300 L508 1277.300 C512 1278 515 1281 516 1285 M484.300 1302.400 L507 1302.400 C511 1301 514 1298 515 1295.500"/>
<path class="wk" d="M498.300 1286 L522.700 1286 M498.300 1294.700 L522.700 1294.700"/>
<path class="wl" d="M516 1285 C518 1280 522 1278 526 1277.600 L589 1277.300 M515 1295.500 C517 1299 521 1301 525 1301.500 L589 1301.300"/>
<path class="dd" d="M589.600 1264 L650 1263.300 L651 1314 L589.600 1314 Z"/>
<circle class="wl" cx="606.300" cy="1276.200" r="2.800"/><circle class="wl" cx="636" cy="1275.500" r="2.800"/><circle class="wl" cx="606.300" cy="1302.400" r="2.800"/><circle class="wl" cx="636.600" cy="1301.300" r="2.800"/>
<path class="wl" d="M589 1277.300 L603.500 1276.500 M589 1301.300 L603.500 1302.200 M609 1277.500 L634.200 1285 M609 1303.500 L634.200 1309.300"/>
<path class="wl" d="M620.300 1285 L620.300 1304 M620.300 1292 L637 1292" stroke-dasharray="3 2.500"/>
<path class="wl" d="M638.800 1275.500 L669 1275.500 L669.700 1292 L717.800 1292 M639.400 1301.300 L717.800 1301.300"/>
<path class="dd" d="M670.800 1311 L717.800 1310" stroke-dasharray="12 3 2 3"/>
<rect class="f" x="717.800" y="1289.500" width="13.500" height="5"/><rect class="f" x="717.800" y="1298.900" width="13.500" height="5.200"/><rect class="f" x="717.800" y="1307.600" width="13.500" height="5.600"/>
<circle class="wl" cx="270" cy="1387" r="3"/>
<path class="dd" d="M273 1387 L670.800 1386 L670.800 1311"/>
<circle class="wl" cx="259.500" cy="1397.500" r="4.500" style="stroke-width:1.200"/>
<path class="wl" d="M259.500 1394.500 L259.500 1398 M257 1398 L262 1398 M258 1400 L261 1400" style="stroke-width:1"/>
<path class="wl" d="M358.800 1387.800 L358.800 1401.700"/>
<path class="wl" d="M350 1424.500 A12 12 0 1 1 367.600 1424.500" style="stroke-width:1.800"/>
<path class="wl" d="M358.800 1404 L358.800 1412 M353 1412 L364.500 1412 M355 1415.500 L362.500 1415.500 M357 1419 L360.500 1419"/>
<text x="383" y="1417.500" font-size="20.500">Erdleiter nur</text>
<rect x="300" y="1423" width="250" height="14" fill="#fff"/>
<path d="M407 1425 L409 1425 M494 1423.500 L496 1423.500 M510 1423 L512 1424 M536 1423.500 L538 1423.500 M569 1423 L571 1422 M590 1423 L592 1423 M623 1424 L632 1423.500 M635 1423 L639 1423" stroke="#111" stroke-width="1.500" fill="none"/>
<circle class="f" cx="110.700" cy="1391" r="1.300"/><circle class="f" cx="340" cy="1229" r="1.200"/>
</g>
<g id="wiring2">
<text x="786" y="1264.700" font-size="17.300" font-weight="bold">Motorgehause</text>
<text x="1032.500" y="1246" font-size="16.400" font-weight="bold">Kondensator</text>
<text x="1192" y="1246" font-size="17" font-weight="bold">Schalter</text>
<text x="937" y="1275.200" font-size="13" font-weight="bold">zum Polschuh</text>
<path class="dd" d="M772 1273.400 L921.300 1272.700 L922 1406 L773.800 1406 Z"/>
<circle class="wl" cx="833.400" cy="1339" r="34.900" style="stroke-width:1.800"/>
<text x="833.400" y="1346.500" font-size="20" font-weight="bold" text-anchor="middle">M</text>
<rect class="f" x="823" y="1297" width="21.600" height="9"/>
<rect class="f" x="823.700" y="1372" width="21.600" height="9"/>
<path class="wl" d="M844.600 1297.800 L884.700 1297 L885.300 1326.800 M845.300 1379.700 L885.300 1379.700 L885.300 1349.400"/>
<rect class="f" x="885.300" y="1323.300" width="22.700" height="8.700"/><rect class="f" x="885.300" y="1344.200" width="22.700" height="9.400"/>
<circle class="wl" cx="903.800" cy="1307" r="4.900"/>
<path class="wl" d="M908.800 1306.800 L974.200 1304.800 L975.300 1283.200 M941.500 1278 L942.200 1304.800 M921.300 1304.800 L921.800 1366.500"/>
<path class="dd" d="M975.300 1283.200 L1040 1281.500" stroke-dasharray="14 4 3 4"/>
<circle class="wl" cx="922.300" cy="1371" r="4.500" fill="#fff"/>
<path class="wk" d="M908 1327.800 L1153 1326.800 L1154 1279 L1193 1267.500 M908 1348.700 L1172.200 1347 L1173.200 1311.800 L1195 1304.800" style="stroke-width:2"/>
<path class="dd" d="M1040.500 1254.600 L1127.600 1254 L1128.600 1314.600 L1041.500 1315.300 Z"/>
<path class="wk" d="M1071.400 1274.500 L1100.300 1274.500 M1071.400 1289.500 L1100.300 1289.500"/>
<path class="wl" d="M1043.200 1281.500 L1100.300 1281.500 M1075 1265.800 L1087 1274.500 L1094 1265 L1193 1264 M1075 1300 L1086 1289.500 L1097.500 1302.400 L1196.600 1303.400"/>
<path class="dd" d="M1193 1253 L1256 1252.500 L1257 1315.600 L1194.200 1316.300 Z"/>
<circle class="wl" cx="1207" cy="1265" r="4.500" fill="#fff"/><circle class="wl" cx="1241.200" cy="1264.400" r="4.500" fill="#fff"/><circle class="wl" cx="1210" cy="1303.400" r="4.500" fill="#fff"/><circle class="wl" cx="1241.200" cy="1302.700" r="4.500" fill="#fff"/>
<path class="wl" d="M1193 1264 L1202.500 1264.800 M1196.600 1303.400 L1205.500 1303.400 M1211 1267.500 L1236.700 1279 M1214 1305.500 L1238.400 1315.300"/>
<path class="wl" d="M1228 1276.200 L1228 1311" stroke-dasharray="3 3"/>
<path class="wl" d="M1246 1264.400 L1291.800 1264.400 L1292.500 1284 L1341.300 1283.200 M1246 1302.700 L1341.300 1302.400 M1292.500 1324.300 L1341.300 1324.300"/>
<rect class="f" x="1341.300" y="1279" width="25.400" height="8.400"/><rect class="f" x="1341.300" y="1297.800" width="25.400" height="9.100"/><rect class="f" x="1341.300" y="1319.800" width="25.400" height="9.400"/>
<path class="wk" d="M1348 1287 L1348 1298 M1361 1287 L1361 1298 M1348 1307 L1348 1320 M1361 1307 L1361 1320"/>
<path class="dd" d="M927 1371 L1292.500 1369.600 L1292.500 1324.300"/>
<circle class="wl" cx="907.300" cy="1383.600" r="5.500" style="stroke-width:1.200"/>
<path class="wl" d="M907.300 1380 L907.300 1383.500 M904.500 1383.500 L910 1383.500 M905.500 1385.500 L909 1385.500" style="stroke-width:1"/>
<path class="wl" d="M992.700 1371 L992.700 1380.800"/>
<circle class="wl" cx="992.700" cy="1395.400" r="14.600" style="stroke-width:1.800"/>
<path class="wl" d="M992.700 1384 L992.700 1393 M985 1393 L1000.500 1393 M987.500 1397.500 L998 1397.500 M990 1402 L995.500 1402"/>
<text x="1013.600" y="1389" font-size="12.800" font-weight="bold">Erdleiter nur schutz -</text>
<text x="1013.600" y="1407" font-size="12.800" font-weight="bold">geerdete Ausfuhrung</text>
</g>

<!-- 30_specks.svg -->
<g id="specks" class="f">
<circle cx="937" cy="382" r="1.300"/><circle cx="1512" cy="52.300" r="1.200"/><circle cx="1372" cy="455" r="1.100"/>
<circle cx="917.400" cy="955" r="1.200"/><circle cx="565" cy="1152" r="1.200"/><circle cx="666.400" cy="1094" r="1"/><circle cx="703.700" cy="1079" r="1"/>
<circle cx="1444.500" cy="164" r="1"/>
<path d="M539.400 931 L539.400 934 M539.400 938 L539.400 940 M540 944 L540 945" stroke="#111" stroke-width="1.500" fill="none"/>
</g>

</svg>
</body></html>
